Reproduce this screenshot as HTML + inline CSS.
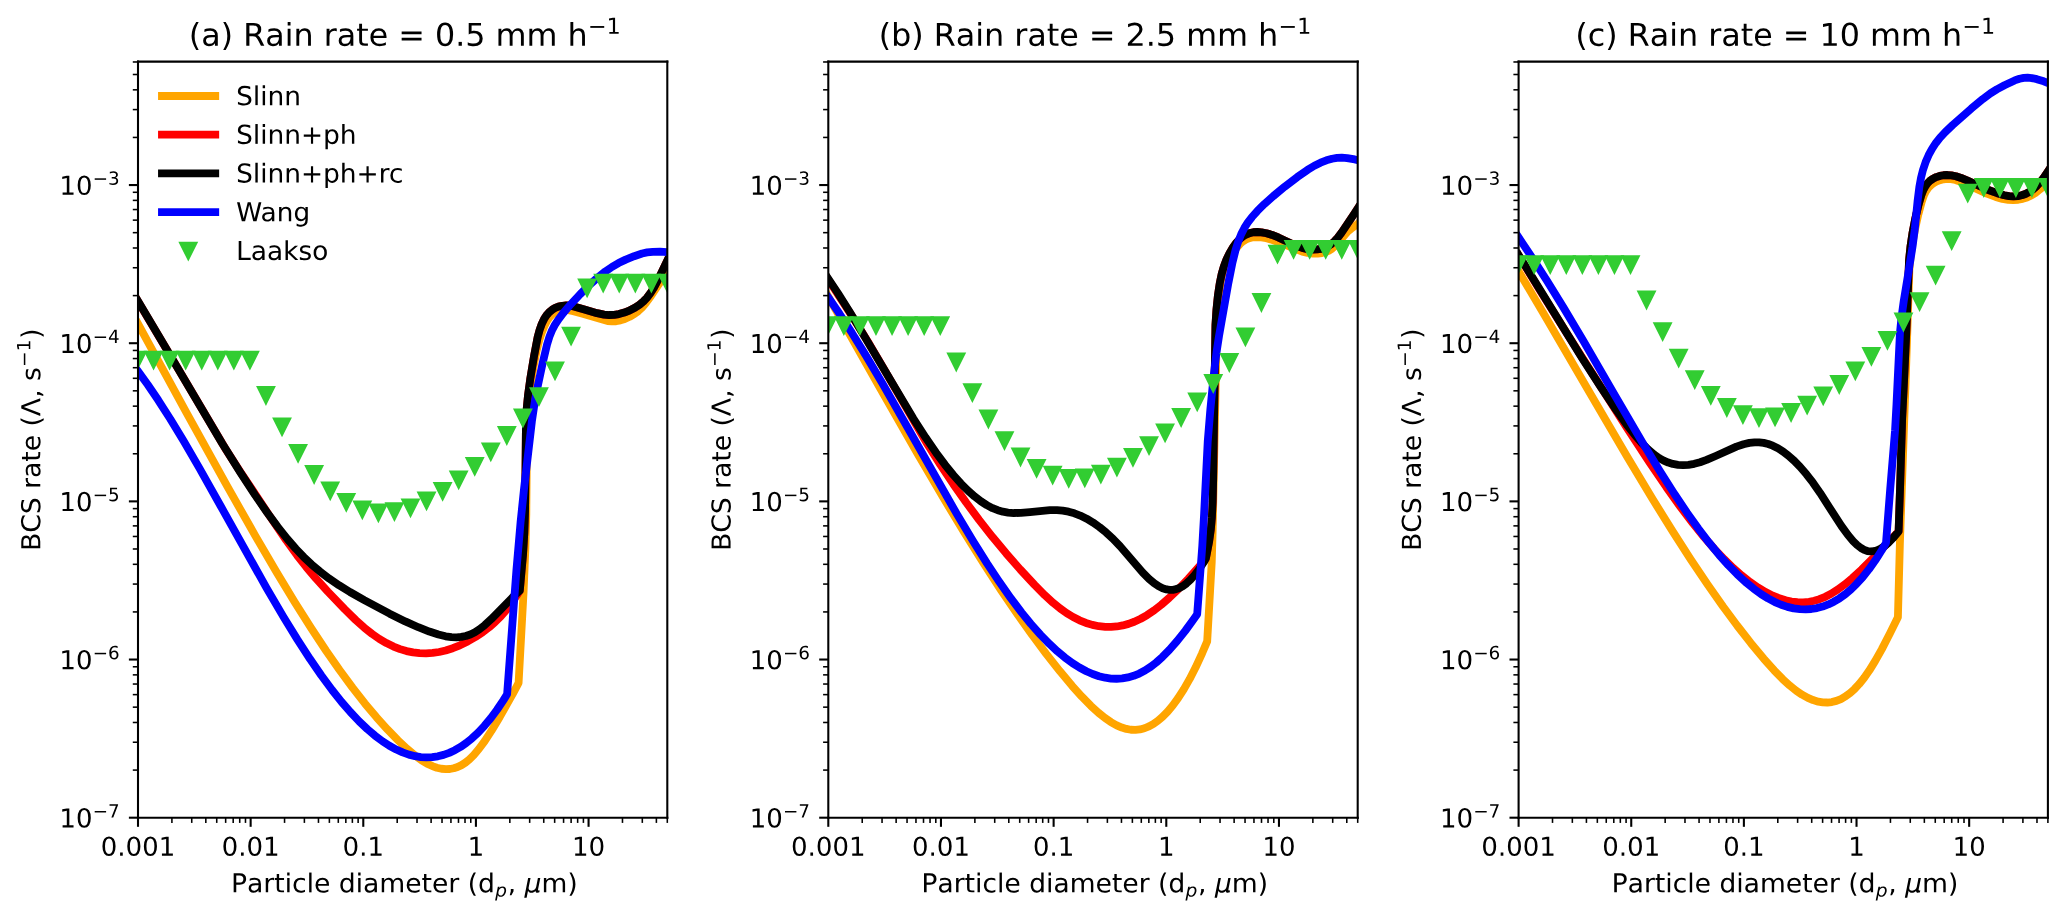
<!DOCTYPE html>
<html><head><meta charset="utf-8"><title>BCS rate</title><style>html,body{margin:0;padding:0;background:#fff;overflow:hidden;width:2067px;height:917px}svg{display:block;font-family:"Liberation Sans",sans-serif}</style></head><body>
<svg width="2067" height="917" viewBox="0 0 793.728 352.128" version="1.1">
 
 <defs>
  <style type="text/css">*{stroke-linejoin: round; stroke-linecap: butt}</style>
 </defs>
 <g id="figure_1">
  <g id="patch_1">
   <path d="M 0 352.128 
L 793.728 352.128 
L 793.728 0 
L 0 0 
z
" style="fill: #ffffff"/>
  </g>
  <g id="axes_1">
   <g id="patch_2">
    <path d="M 52.992 313.9968 
L 256.2432 313.9968 
L 256.2432 23.6544 
L 52.992 23.6544 
z
" style="fill: #ffffff"/>
   </g>
   <g id="matplotlib.axis_1">
    <g id="xtick_1">
     <g id="line2d_1">
      <defs>
       <path id="m1504cfccaf" d="M 0 0 
L 0 3.5 
" style="stroke: #000000; stroke-width: 0.8"/>
      </defs>
      <g>
       <use href="#m1504cfccaf" x="52.992" y="313.9968" style="stroke: #000000; stroke-width: 0.8"/>
      </g>
     </g>
     <g id="xt0_0">
      <!-- 0.001 -->
      <g transform="translate(38.677937 328.595237) scale(0.1 -0.1)">
       <defs>
        <path id="DejaVuSans-30" d="M 2034 4250 
Q 1547 4250 1301 3770 
Q 1056 3291 1056 2328 
Q 1056 1369 1301 889 
Q 1547 409 2034 409 
Q 2525 409 2770 889 
Q 3016 1369 3016 2328 
Q 3016 3291 2770 3770 
Q 2525 4250 2034 4250 
z
M 2034 4750 
Q 2819 4750 3233 4129 
Q 3647 3509 3647 2328 
Q 3647 1150 3233 529 
Q 2819 -91 2034 -91 
Q 1250 -91 836 529 
Q 422 1150 422 2328 
Q 422 3509 836 4129 
Q 1250 4750 2034 4750 
z
" transform="scale(0.015625)"/>
        <path id="DejaVuSans-2e" d="M 684 794 
L 1344 794 
L 1344 0 
L 684 0 
L 684 794 
z
" transform="scale(0.015625)"/>
        <path id="DejaVuSans-31" d="M 794 531 
L 1825 531 
L 1825 4091 
L 703 3866 
L 703 4441 
L 1819 4666 
L 2450 4666 
L 2450 531 
L 3481 531 
L 3481 0 
L 794 0 
L 794 531 
z
" transform="scale(0.015625)"/>
       </defs>
       <use href="#DejaVuSans-30"/>
       <use href="#DejaVuSans-2e" transform="translate(63.623047 0)"/>
       <use href="#DejaVuSans-30" transform="translate(95.410156 0)"/>
       <use href="#DejaVuSans-30" transform="translate(159.033203 0)"/>
       <use href="#DejaVuSans-31" transform="translate(222.65625 0)"/>
      </g>
     </g>
    </g>
    <g id="xtick_2">
     <g id="line2d_2">
      <g>
       <use href="#m1504cfccaf" x="96.246415" y="313.9968" style="stroke: #000000; stroke-width: 0.8"/>
      </g>
     </g>
     <g id="xt0_1">
      <!-- 0.01 -->
      <g transform="translate(85.113603 328.595237) scale(0.1 -0.1)">
       <use href="#DejaVuSans-30"/>
       <use href="#DejaVuSans-2e" transform="translate(63.623047 0)"/>
       <use href="#DejaVuSans-30" transform="translate(95.410156 0)"/>
       <use href="#DejaVuSans-31" transform="translate(159.033203 0)"/>
      </g>
     </g>
    </g>
    <g id="xtick_3">
     <g id="line2d_3">
      <g>
       <use href="#m1504cfccaf" x="139.500831" y="313.9968" style="stroke: #000000; stroke-width: 0.8"/>
      </g>
     </g>
     <g id="xt0_2">
      <!-- 0.1 -->
      <g transform="translate(131.549268 328.595237) scale(0.1 -0.1)">
       <use href="#DejaVuSans-30"/>
       <use href="#DejaVuSans-2e" transform="translate(63.623047 0)"/>
       <use href="#DejaVuSans-31" transform="translate(95.410156 0)"/>
      </g>
     </g>
    </g>
    <g id="xtick_4">
     <g id="line2d_4">
      <g>
       <use href="#m1504cfccaf" x="182.755246" y="313.9968" style="stroke: #000000; stroke-width: 0.8"/>
      </g>
     </g>
     <g id="xt0_3">
      <!-- 1 -->
      <g transform="translate(179.573996 328.595237) scale(0.1 -0.1)">
       <use href="#DejaVuSans-31"/>
      </g>
     </g>
    </g>
    <g id="xtick_5">
     <g id="line2d_5">
      <g>
       <use href="#m1504cfccaf" x="226.009661" y="313.9968" style="stroke: #000000; stroke-width: 0.8"/>
      </g>
     </g>
     <g id="xt0_4">
      <!-- 10 -->
      <g transform="translate(219.647161 328.595237) scale(0.1 -0.1)">
       <use href="#DejaVuSans-31"/>
       <use href="#DejaVuSans-30" transform="translate(63.623047 0)"/>
      </g>
     </g>
    </g>
    <g id="xtick_6">
     <g id="line2d_6">
      <defs>
       <path id="m05db3bdf9b" d="M 0 0 
L 0 2 
" style="stroke: #000000; stroke-width: 0.6"/>
      </defs>
      <g>
       <use href="#m05db3bdf9b" x="66.012876" y="313.9968" style="stroke: #000000; stroke-width: 0.6"/>
      </g>
     </g>
    </g>
    <g id="xtick_7">
     <g id="line2d_7">
      <g>
       <use href="#m05db3bdf9b" x="73.629601" y="313.9968" style="stroke: #000000; stroke-width: 0.6"/>
      </g>
     </g>
    </g>
    <g id="xtick_8">
     <g id="line2d_8">
      <g>
       <use href="#m05db3bdf9b" x="79.033753" y="313.9968" style="stroke: #000000; stroke-width: 0.6"/>
      </g>
     </g>
    </g>
    <g id="xtick_9">
     <g id="line2d_9">
      <g>
       <use href="#m05db3bdf9b" x="83.225539" y="313.9968" style="stroke: #000000; stroke-width: 0.6"/>
      </g>
     </g>
    </g>
    <g id="xtick_10">
     <g id="line2d_10">
      <g>
       <use href="#m05db3bdf9b" x="86.650477" y="313.9968" style="stroke: #000000; stroke-width: 0.6"/>
      </g>
     </g>
    </g>
    <g id="xtick_11">
     <g id="line2d_11">
      <g>
       <use href="#m05db3bdf9b" x="89.546222" y="313.9968" style="stroke: #000000; stroke-width: 0.6"/>
      </g>
     </g>
    </g>
    <g id="xtick_12">
     <g id="line2d_12">
      <g>
       <use href="#m05db3bdf9b" x="92.054629" y="313.9968" style="stroke: #000000; stroke-width: 0.6"/>
      </g>
     </g>
    </g>
    <g id="xtick_13">
     <g id="line2d_13">
      <g>
       <use href="#m05db3bdf9b" x="94.267202" y="313.9968" style="stroke: #000000; stroke-width: 0.6"/>
      </g>
     </g>
    </g>
    <g id="xtick_14">
     <g id="line2d_14">
      <g>
       <use href="#m05db3bdf9b" x="109.267292" y="313.9968" style="stroke: #000000; stroke-width: 0.6"/>
      </g>
     </g>
    </g>
    <g id="xtick_15">
     <g id="line2d_15">
      <g>
       <use href="#m05db3bdf9b" x="116.884016" y="313.9968" style="stroke: #000000; stroke-width: 0.6"/>
      </g>
     </g>
    </g>
    <g id="xtick_16">
     <g id="line2d_16">
      <g>
       <use href="#m05db3bdf9b" x="122.288168" y="313.9968" style="stroke: #000000; stroke-width: 0.6"/>
      </g>
     </g>
    </g>
    <g id="xtick_17">
     <g id="line2d_17">
      <g>
       <use href="#m05db3bdf9b" x="126.479954" y="313.9968" style="stroke: #000000; stroke-width: 0.6"/>
      </g>
     </g>
    </g>
    <g id="xtick_18">
     <g id="line2d_18">
      <g>
       <use href="#m05db3bdf9b" x="129.904893" y="313.9968" style="stroke: #000000; stroke-width: 0.6"/>
      </g>
     </g>
    </g>
    <g id="xtick_19">
     <g id="line2d_19">
      <g>
       <use href="#m05db3bdf9b" x="132.800637" y="313.9968" style="stroke: #000000; stroke-width: 0.6"/>
      </g>
     </g>
    </g>
    <g id="xtick_20">
     <g id="line2d_20">
      <g>
       <use href="#m05db3bdf9b" x="135.309045" y="313.9968" style="stroke: #000000; stroke-width: 0.6"/>
      </g>
     </g>
    </g>
    <g id="xtick_21">
     <g id="line2d_21">
      <g>
       <use href="#m05db3bdf9b" x="137.521617" y="313.9968" style="stroke: #000000; stroke-width: 0.6"/>
      </g>
     </g>
    </g>
    <g id="xtick_22">
     <g id="line2d_22">
      <g>
       <use href="#m05db3bdf9b" x="152.521707" y="313.9968" style="stroke: #000000; stroke-width: 0.6"/>
      </g>
     </g>
    </g>
    <g id="xtick_23">
     <g id="line2d_23">
      <g>
       <use href="#m05db3bdf9b" x="160.138431" y="313.9968" style="stroke: #000000; stroke-width: 0.6"/>
      </g>
     </g>
    </g>
    <g id="xtick_24">
     <g id="line2d_24">
      <g>
       <use href="#m05db3bdf9b" x="165.542583" y="313.9968" style="stroke: #000000; stroke-width: 0.6"/>
      </g>
     </g>
    </g>
    <g id="xtick_25">
     <g id="line2d_25">
      <g>
       <use href="#m05db3bdf9b" x="169.734369" y="313.9968" style="stroke: #000000; stroke-width: 0.6"/>
      </g>
     </g>
    </g>
    <g id="xtick_26">
     <g id="line2d_26">
      <g>
       <use href="#m05db3bdf9b" x="173.159308" y="313.9968" style="stroke: #000000; stroke-width: 0.6"/>
      </g>
     </g>
    </g>
    <g id="xtick_27">
     <g id="line2d_27">
      <g>
       <use href="#m05db3bdf9b" x="176.055052" y="313.9968" style="stroke: #000000; stroke-width: 0.6"/>
      </g>
     </g>
    </g>
    <g id="xtick_28">
     <g id="line2d_28">
      <g>
       <use href="#m05db3bdf9b" x="178.56346" y="313.9968" style="stroke: #000000; stroke-width: 0.6"/>
      </g>
     </g>
    </g>
    <g id="xtick_29">
     <g id="line2d_29">
      <g>
       <use href="#m05db3bdf9b" x="180.776032" y="313.9968" style="stroke: #000000; stroke-width: 0.6"/>
      </g>
     </g>
    </g>
    <g id="xtick_30">
     <g id="line2d_30">
      <g>
       <use href="#m05db3bdf9b" x="195.776122" y="313.9968" style="stroke: #000000; stroke-width: 0.6"/>
      </g>
     </g>
    </g>
    <g id="xtick_31">
     <g id="line2d_31">
      <g>
       <use href="#m05db3bdf9b" x="203.392847" y="313.9968" style="stroke: #000000; stroke-width: 0.6"/>
      </g>
     </g>
    </g>
    <g id="xtick_32">
     <g id="line2d_32">
      <g>
       <use href="#m05db3bdf9b" x="208.796999" y="313.9968" style="stroke: #000000; stroke-width: 0.6"/>
      </g>
     </g>
    </g>
    <g id="xtick_33">
     <g id="line2d_33">
      <g>
       <use href="#m05db3bdf9b" x="212.988785" y="313.9968" style="stroke: #000000; stroke-width: 0.6"/>
      </g>
     </g>
    </g>
    <g id="xtick_34">
     <g id="line2d_34">
      <g>
       <use href="#m05db3bdf9b" x="216.413723" y="313.9968" style="stroke: #000000; stroke-width: 0.6"/>
      </g>
     </g>
    </g>
    <g id="xtick_35">
     <g id="line2d_35">
      <g>
       <use href="#m05db3bdf9b" x="219.309467" y="313.9968" style="stroke: #000000; stroke-width: 0.6"/>
      </g>
     </g>
    </g>
    <g id="xtick_36">
     <g id="line2d_36">
      <g>
       <use href="#m05db3bdf9b" x="221.817875" y="313.9968" style="stroke: #000000; stroke-width: 0.6"/>
      </g>
     </g>
    </g>
    <g id="xtick_37">
     <g id="line2d_37">
      <g>
       <use href="#m05db3bdf9b" x="224.030448" y="313.9968" style="stroke: #000000; stroke-width: 0.6"/>
      </g>
     </g>
    </g>
    <g id="xtick_38">
     <g id="line2d_38">
      <g>
       <use href="#m05db3bdf9b" x="239.030538" y="313.9968" style="stroke: #000000; stroke-width: 0.6"/>
      </g>
     </g>
    </g>
    <g id="xtick_39">
     <g id="line2d_39">
      <g>
       <use href="#m05db3bdf9b" x="246.647262" y="313.9968" style="stroke: #000000; stroke-width: 0.6"/>
      </g>
     </g>
    </g>
    <g id="xtick_40">
     <g id="line2d_40">
      <g>
       <use href="#m05db3bdf9b" x="252.051414" y="313.9968" style="stroke: #000000; stroke-width: 0.6"/>
      </g>
     </g>
    </g>
    <g id="xtick_41">
     <g id="line2d_41">
      <g>
       <use href="#m05db3bdf9b" x="256.2432" y="313.9968" style="stroke: #000000; stroke-width: 0.6"/>
      </g>
     </g>
    </g>
    <g id="xl0" transform="translate(89.7228 335.0589) scale(1.02000 1.00000) translate(-90.2988 -334.6749)">
     <!-- Particle diameter (d$_p$, $\mu$m) -->
     <g transform="translate(89.3176 342.274925) scale(0.1 -0.1)">
      <defs>
       <path id="DejaVuSans-50" d="M 1259 4147 
L 1259 2394 
L 2053 2394 
Q 2494 2394 2734 2622 
Q 2975 2850 2975 3272 
Q 2975 3691 2734 3919 
Q 2494 4147 2053 4147 
L 1259 4147 
z
M 628 4666 
L 2053 4666 
Q 2838 4666 3239 4311 
Q 3641 3956 3641 3272 
Q 3641 2581 3239 2228 
Q 2838 1875 2053 1875 
L 1259 1875 
L 1259 0 
L 628 0 
L 628 4666 
z
" transform="scale(0.015625)"/>
       <path id="DejaVuSans-61" d="M 2194 1759 
Q 1497 1759 1228 1600 
Q 959 1441 959 1056 
Q 959 750 1161 570 
Q 1363 391 1709 391 
Q 2188 391 2477 730 
Q 2766 1069 2766 1631 
L 2766 1759 
L 2194 1759 
z
M 3341 1997 
L 3341 0 
L 2766 0 
L 2766 531 
Q 2569 213 2275 61 
Q 1981 -91 1556 -91 
Q 1019 -91 701 211 
Q 384 513 384 1019 
Q 384 1609 779 1909 
Q 1175 2209 1959 2209 
L 2766 2209 
L 2766 2266 
Q 2766 2663 2505 2880 
Q 2244 3097 1772 3097 
Q 1472 3097 1187 3025 
Q 903 2953 641 2809 
L 641 3341 
Q 956 3463 1253 3523 
Q 1550 3584 1831 3584 
Q 2591 3584 2966 3190 
Q 3341 2797 3341 1997 
z
" transform="scale(0.015625)"/>
       <path id="DejaVuSans-72" d="M 2631 2963 
Q 2534 3019 2420 3045 
Q 2306 3072 2169 3072 
Q 1681 3072 1420 2755 
Q 1159 2438 1159 1844 
L 1159 0 
L 581 0 
L 581 3500 
L 1159 3500 
L 1159 2956 
Q 1341 3275 1631 3429 
Q 1922 3584 2338 3584 
Q 2397 3584 2469 3576 
Q 2541 3569 2628 3553 
L 2631 2963 
z
" transform="scale(0.015625)"/>
       <path id="DejaVuSans-74" d="M 1172 4494 
L 1172 3500 
L 2356 3500 
L 2356 3053 
L 1172 3053 
L 1172 1153 
Q 1172 725 1289 603 
Q 1406 481 1766 481 
L 2356 481 
L 2356 0 
L 1766 0 
Q 1100 0 847 248 
Q 594 497 594 1153 
L 594 3053 
L 172 3053 
L 172 3500 
L 594 3500 
L 594 4494 
L 1172 4494 
z
" transform="scale(0.015625)"/>
       <path id="DejaVuSans-69" d="M 603 3500 
L 1178 3500 
L 1178 0 
L 603 0 
L 603 3500 
z
M 603 4863 
L 1178 4863 
L 1178 4134 
L 603 4134 
L 603 4863 
z
" transform="scale(0.015625)"/>
       <path id="DejaVuSans-63" d="M 3122 3366 
L 3122 2828 
Q 2878 2963 2633 3030 
Q 2388 3097 2138 3097 
Q 1578 3097 1268 2742 
Q 959 2388 959 1747 
Q 959 1106 1268 751 
Q 1578 397 2138 397 
Q 2388 397 2633 464 
Q 2878 531 3122 666 
L 3122 134 
Q 2881 22 2623 -34 
Q 2366 -91 2075 -91 
Q 1284 -91 818 406 
Q 353 903 353 1747 
Q 353 2603 823 3093 
Q 1294 3584 2113 3584 
Q 2378 3584 2631 3529 
Q 2884 3475 3122 3366 
z
" transform="scale(0.015625)"/>
       <path id="DejaVuSans-6c" d="M 603 4863 
L 1178 4863 
L 1178 0 
L 603 0 
L 603 4863 
z
" transform="scale(0.015625)"/>
       <path id="DejaVuSans-65" d="M 3597 1894 
L 3597 1613 
L 953 1613 
Q 991 1019 1311 708 
Q 1631 397 2203 397 
Q 2534 397 2845 478 
Q 3156 559 3463 722 
L 3463 178 
Q 3153 47 2828 -22 
Q 2503 -91 2169 -91 
Q 1331 -91 842 396 
Q 353 884 353 1716 
Q 353 2575 817 3079 
Q 1281 3584 2069 3584 
Q 2775 3584 3186 3129 
Q 3597 2675 3597 1894 
z
M 3022 2063 
Q 3016 2534 2758 2815 
Q 2500 3097 2075 3097 
Q 1594 3097 1305 2825 
Q 1016 2553 972 2059 
L 3022 2063 
z
" transform="scale(0.015625)"/>
       <path id="DejaVuSans-20" transform="scale(0.015625)"/>
       <path id="DejaVuSans-64" d="M 2906 2969 
L 2906 4863 
L 3481 4863 
L 3481 0 
L 2906 0 
L 2906 525 
Q 2725 213 2448 61 
Q 2172 -91 1784 -91 
Q 1150 -91 751 415 
Q 353 922 353 1747 
Q 353 2572 751 3078 
Q 1150 3584 1784 3584 
Q 2172 3584 2448 3432 
Q 2725 3281 2906 2969 
z
M 947 1747 
Q 947 1113 1208 752 
Q 1469 391 1925 391 
Q 2381 391 2643 752 
Q 2906 1113 2906 1747 
Q 2906 2381 2643 2742 
Q 2381 3103 1925 3103 
Q 1469 3103 1208 2742 
Q 947 2381 947 1747 
z
" transform="scale(0.015625)"/>
       <path id="DejaVuSans-6d" d="M 3328 2828 
Q 3544 3216 3844 3400 
Q 4144 3584 4550 3584 
Q 5097 3584 5394 3201 
Q 5691 2819 5691 2113 
L 5691 0 
L 5113 0 
L 5113 2094 
Q 5113 2597 4934 2840 
Q 4756 3084 4391 3084 
Q 3944 3084 3684 2787 
Q 3425 2491 3425 1978 
L 3425 0 
L 2847 0 
L 2847 2094 
Q 2847 2600 2669 2842 
Q 2491 3084 2119 3084 
Q 1678 3084 1418 2786 
Q 1159 2488 1159 1978 
L 1159 0 
L 581 0 
L 581 3500 
L 1159 3500 
L 1159 2956 
Q 1356 3278 1631 3431 
Q 1906 3584 2284 3584 
Q 2666 3584 2933 3390 
Q 3200 3197 3328 2828 
z
" transform="scale(0.015625)"/>
       <path id="DejaVuSans-28" d="M 1984 4856 
Q 1566 4138 1362 3434 
Q 1159 2731 1159 2009 
Q 1159 1288 1364 580 
Q 1569 -128 1984 -844 
L 1484 -844 
Q 1016 -109 783 600 
Q 550 1309 550 2009 
Q 550 2706 781 3412 
Q 1013 4119 1484 4856 
L 1984 4856 
z
" transform="scale(0.015625)"/>
       <path id="DejaVuSans-Oblique-70" d="M 3175 2156 
Q 3175 2616 2975 2859 
Q 2775 3103 2400 3103 
Q 2144 3103 1911 2972 
Q 1678 2841 1497 2591 
Q 1319 2344 1212 1994 
Q 1106 1644 1106 1300 
Q 1106 863 1306 627 
Q 1506 391 1875 391 
Q 2147 391 2380 519 
Q 2613 647 2778 891 
Q 2956 1147 3065 1494 
Q 3175 1841 3175 2156 
z
M 1394 2969 
Q 1625 3272 1939 3428 
Q 2253 3584 2638 3584 
Q 3175 3584 3472 3232 
Q 3769 2881 3769 2247 
Q 3769 1728 3584 1258 
Q 3400 788 3053 416 
Q 2822 169 2531 39 
Q 2241 -91 1919 -91 
Q 1547 -91 1294 64 
Q 1041 219 916 525 
L 556 -1331 
L -19 -1331 
L 922 3500 
L 1497 3500 
L 1394 2969 
z
" transform="scale(0.015625)"/>
       <path id="DejaVuSans-2c" d="M 750 794 
L 1409 794 
L 1409 256 
L 897 -744 
L 494 -744 
L 750 256 
L 750 794 
z
" transform="scale(0.015625)"/>
       <path id="DejaVuSans-Oblique-3bc" d="M -84 -1331 
L 856 3500 
L 1434 3500 
L 1009 1322 
Q 997 1256 987 1175 
Q 978 1094 978 1013 
Q 978 722 1161 565 
Q 1344 409 1684 409 
Q 2147 409 2431 671 
Q 2716 934 2816 1459 
L 3213 3500 
L 3788 3500 
L 3266 809 
Q 3253 750 3248 706 
Q 3244 663 3244 628 
Q 3244 531 3283 486 
Q 3322 441 3406 441 
Q 3438 441 3492 456 
Q 3547 472 3647 513 
L 3559 50 
Q 3422 -19 3297 -55 
Q 3172 -91 3053 -91 
Q 2847 -91 2730 40 
Q 2613 172 2613 403 
Q 2438 153 2195 31 
Q 1953 -91 1625 -91 
Q 1334 -91 1117 43 
Q 900 178 831 397 
L 494 -1331 
L -84 -1331 
z
" transform="scale(0.015625)"/>
       <path id="DejaVuSans-29" d="M 513 4856 
L 1013 4856 
Q 1481 4119 1714 3412 
Q 1947 2706 1947 2009 
Q 1947 1309 1714 600 
Q 1481 -109 1013 -844 
L 513 -844 
Q 928 -128 1133 580 
Q 1338 1288 1338 2009 
Q 1338 2731 1133 3434 
Q 928 4138 513 4856 
z
" transform="scale(0.015625)"/>
      </defs>
      <use href="#DejaVuSans-50" transform="translate(0 0.015625)"/>
      <use href="#DejaVuSans-61" transform="translate(60.302734 0.015625)"/>
      <use href="#DejaVuSans-72" transform="translate(121.582031 0.015625)"/>
      <use href="#DejaVuSans-74" transform="translate(162.695312 0.015625)"/>
      <use href="#DejaVuSans-69" transform="translate(201.904297 0.015625)"/>
      <use href="#DejaVuSans-63" transform="translate(229.6875 0.015625)"/>
      <use href="#DejaVuSans-6c" transform="translate(284.667969 0.015625)"/>
      <use href="#DejaVuSans-65" transform="translate(312.451172 0.015625)"/>
      <use href="#DejaVuSans-20" transform="translate(373.974609 0.015625)"/>
      <use href="#DejaVuSans-64" transform="translate(405.761719 0.015625)"/>
      <use href="#DejaVuSans-69" transform="translate(469.238281 0.015625)"/>
      <use href="#DejaVuSans-61" transform="translate(497.021484 0.015625)"/>
      <use href="#DejaVuSans-6d" transform="translate(558.300781 0.015625)"/>
      <use href="#DejaVuSans-65" transform="translate(655.712891 0.015625)"/>
      <use href="#DejaVuSans-74" transform="translate(717.236328 0.015625)"/>
      <use href="#DejaVuSans-65" transform="translate(756.445312 0.015625)"/>
      <use href="#DejaVuSans-72" transform="translate(817.96875 0.015625)"/>
      <use href="#DejaVuSans-20" transform="translate(859.082031 0.015625)"/>
      <use href="#DejaVuSans-28" transform="translate(890.869141 0.015625)"/>
      <use href="#DejaVuSans-64" transform="translate(929.882812 0.015625)"/>
      <use href="#DejaVuSans-Oblique-70" transform="translate(994.316406 -16.390625) scale(0.7)"/>
      <use href="#DejaVuSans-2c" transform="translate(1041.484375 0.015625)"/>
      <use href="#DejaVuSans-20" transform="translate(1073.271484 0.015625)"/>
      <use href="#DejaVuSans-Oblique-3bc" transform="translate(1105.058594 0.015625)"/>
      <use href="#DejaVuSans-6d" transform="translate(1168.681641 0.015625)"/>
      <use href="#DejaVuSans-29" transform="translate(1266.09375 0.015625)"/>
     </g>
    </g>
   </g>
   <g id="matplotlib.axis_2">
    <g id="ytick_1">
     <g id="line2d_42">
      <defs>
       <path id="m5d545ce8f8" d="M 0 0 
L -3.5 0 
" style="stroke: #000000; stroke-width: 0.8"/>
      </defs>
      <g>
       <use href="#m5d545ce8f8" x="52.992" y="313.9968" style="stroke: #000000; stroke-width: 0.8"/>
      </g>
     </g>
     <g id="yt0_1" transform="translate(23.8976 308.7960) scale(1.00000 1.00000) translate(-23.5904 -308.7960)">
      <!-- $\mathdefault{10^{-7}}$ -->
      <g transform="translate(22.492 317.796019) scale(0.1 -0.1)">
       <defs>
        <path id="DejaVuSans-2212" d="M 678 2272 
L 4684 2272 
L 4684 1741 
L 678 1741 
L 678 2272 
z
" transform="scale(0.015625)"/>
        <path id="DejaVuSans-37" d="M 525 4666 
L 3525 4666 
L 3525 4397 
L 1831 0 
L 1172 0 
L 2766 4134 
L 525 4134 
L 525 4666 
z
" transform="scale(0.015625)"/>
       </defs>
       <use href="#DejaVuSans-31" transform="translate(0 0.684375)"/>
       <use href="#DejaVuSans-30" transform="translate(63.623047 0.684375)"/>
       <use href="#DejaVuSans-2212" transform="translate(128.203125 38.965625) scale(0.7)"/>
       <use href="#DejaVuSans-37" transform="translate(186.855469 38.965625) scale(0.7)"/>
      </g>
     </g>
    </g>
    <g id="ytick_2">
     <g id="line2d_43">
      <g>
       <use href="#m5d545ce8f8" x="52.992" y="253.2624" style="stroke: #000000; stroke-width: 0.8"/>
      </g>
     </g>
     <g id="yt0_2" transform="translate(23.8976 247.9616) scale(1.00000 1.00000) translate(-23.5904 -247.9616)">
      <!-- $\mathdefault{10^{-6}}$ -->
      <g transform="translate(22.492 257.061619) scale(0.1 -0.1)">
       <defs>
        <path id="DejaVuSans-36" d="M 2113 2584 
Q 1688 2584 1439 2293 
Q 1191 2003 1191 1497 
Q 1191 994 1439 701 
Q 1688 409 2113 409 
Q 2538 409 2786 701 
Q 3034 994 3034 1497 
Q 3034 2003 2786 2293 
Q 2538 2584 2113 2584 
z
M 3366 4563 
L 3366 3988 
Q 3128 4100 2886 4159 
Q 2644 4219 2406 4219 
Q 1781 4219 1451 3797 
Q 1122 3375 1075 2522 
Q 1259 2794 1537 2939 
Q 1816 3084 2150 3084 
Q 2853 3084 3261 2657 
Q 3669 2231 3669 1497 
Q 3669 778 3244 343 
Q 2819 -91 2113 -91 
Q 1303 -91 875 529 
Q 447 1150 447 2328 
Q 447 3434 972 4092 
Q 1497 4750 2381 4750 
Q 2619 4750 2861 4703 
Q 3103 4656 3366 4563 
z
" transform="scale(0.015625)"/>
       </defs>
       <use href="#DejaVuSans-31" transform="translate(0 0.765625)"/>
       <use href="#DejaVuSans-30" transform="translate(63.623047 0.765625)"/>
       <use href="#DejaVuSans-2212" transform="translate(128.203125 39.046875) scale(0.7)"/>
       <use href="#DejaVuSans-36" transform="translate(186.855469 39.046875) scale(0.7)"/>
      </g>
     </g>
    </g>
    <g id="ytick_3">
     <g id="line2d_44">
      <g>
       <use href="#m5d545ce8f8" x="52.992" y="192.528" style="stroke: #000000; stroke-width: 0.8"/>
      </g>
     </g>
     <g id="yt0_3" transform="translate(23.8976 187.3272) scale(1.00000 1.00000) translate(-23.5904 -187.3272)">
      <!-- $\mathdefault{10^{-5}}$ -->
      <g transform="translate(22.492 196.327219) scale(0.1 -0.1)">
       <defs>
        <path id="DejaVuSans-35" d="M 691 4666 
L 3169 4666 
L 3169 4134 
L 1269 4134 
L 1269 2991 
Q 1406 3038 1543 3061 
Q 1681 3084 1819 3084 
Q 2600 3084 3056 2656 
Q 3513 2228 3513 1497 
Q 3513 744 3044 326 
Q 2575 -91 1722 -91 
Q 1428 -91 1123 -41 
Q 819 9 494 109 
L 494 744 
Q 775 591 1075 516 
Q 1375 441 1709 441 
Q 2250 441 2565 725 
Q 2881 1009 2881 1497 
Q 2881 1984 2565 2268 
Q 2250 2553 1709 2553 
Q 1456 2553 1204 2497 
Q 953 2441 691 2322 
L 691 4666 
z
" transform="scale(0.015625)"/>
       </defs>
       <use href="#DejaVuSans-31" transform="translate(0 0.684375)"/>
       <use href="#DejaVuSans-30" transform="translate(63.623047 0.684375)"/>
       <use href="#DejaVuSans-2212" transform="translate(128.203125 38.965625) scale(0.7)"/>
       <use href="#DejaVuSans-35" transform="translate(186.855469 38.965625) scale(0.7)"/>
      </g>
     </g>
    </g>
    <g id="ytick_4">
     <g id="line2d_45">
      <g>
       <use href="#m5d545ce8f8" x="52.992" y="131.7936" style="stroke: #000000; stroke-width: 0.8"/>
      </g>
     </g>
     <g id="yt0_4" transform="translate(23.8976 126.5928) scale(1.00000 1.00000) translate(-23.5904 -126.5928)">
      <!-- $\mathdefault{10^{-4}}$ -->
      <g transform="translate(22.492 135.592819) scale(0.1 -0.1)">
       <defs>
        <path id="DejaVuSans-34" d="M 2419 4116 
L 825 1625 
L 2419 1625 
L 2419 4116 
z
M 2253 4666 
L 3047 4666 
L 3047 1625 
L 3713 1625 
L 3713 1100 
L 3047 1100 
L 3047 0 
L 2419 0 
L 2419 1100 
L 313 1100 
L 313 1709 
L 2253 4666 
z
" transform="scale(0.015625)"/>
       </defs>
       <use href="#DejaVuSans-31" transform="translate(0 0.684375)"/>
       <use href="#DejaVuSans-30" transform="translate(63.623047 0.684375)"/>
       <use href="#DejaVuSans-2212" transform="translate(128.203125 38.965625) scale(0.7)"/>
       <use href="#DejaVuSans-34" transform="translate(186.855469 38.965625) scale(0.7)"/>
      </g>
     </g>
    </g>
    <g id="ytick_5">
     <g id="line2d_46">
      <g>
       <use href="#m5d545ce8f8" x="52.992" y="71.0592" style="stroke: #000000; stroke-width: 0.8"/>
      </g>
     </g>
     <g id="yt0_5" transform="translate(23.8976 65.7584) scale(1.00000 1.00000) translate(-23.5904 -65.7584)">
      <!-- $\mathdefault{10^{-3}}$ -->
      <g transform="translate(22.492 74.858419) scale(0.1 -0.1)">
       <defs>
        <path id="DejaVuSans-33" d="M 2597 2516 
Q 3050 2419 3304 2112 
Q 3559 1806 3559 1356 
Q 3559 666 3084 287 
Q 2609 -91 1734 -91 
Q 1441 -91 1130 -33 
Q 819 25 488 141 
L 488 750 
Q 750 597 1062 519 
Q 1375 441 1716 441 
Q 2309 441 2620 675 
Q 2931 909 2931 1356 
Q 2931 1769 2642 2001 
Q 2353 2234 1838 2234 
L 1294 2234 
L 1294 2753 
L 1863 2753 
Q 2328 2753 2575 2939 
Q 2822 3125 2822 3475 
Q 2822 3834 2567 4026 
Q 2313 4219 1838 4219 
Q 1578 4219 1281 4162 
Q 984 4106 628 3988 
L 628 4550 
Q 988 4650 1302 4700 
Q 1616 4750 1894 4750 
Q 2613 4750 3031 4423 
Q 3450 4097 3450 3541 
Q 3450 3153 3228 2886 
Q 3006 2619 2597 2516 
z
" transform="scale(0.015625)"/>
       </defs>
       <use href="#DejaVuSans-31" transform="translate(0 0.765625)"/>
       <use href="#DejaVuSans-30" transform="translate(63.623047 0.765625)"/>
       <use href="#DejaVuSans-2212" transform="translate(128.203125 39.046875) scale(0.7)"/>
       <use href="#DejaVuSans-33" transform="translate(186.855469 39.046875) scale(0.7)"/>
      </g>
     </g>
    </g>
    <g id="ytick_6">
     <g id="line2d_47">
      <defs>
       <path id="mc3d89a154a" d="M 0 0 
L -2 0 
" style="stroke: #000000; stroke-width: 0.6"/>
      </defs>
      <g>
       <use href="#mc3d89a154a" x="52.992" y="295.713924" style="stroke: #000000; stroke-width: 0.6"/>
      </g>
     </g>
    </g>
    <g id="ytick_7">
     <g id="line2d_48">
      <g>
       <use href="#mc3d89a154a" x="52.992" y="285.019127" style="stroke: #000000; stroke-width: 0.6"/>
      </g>
     </g>
    </g>
    <g id="ytick_8">
     <g id="line2d_49">
      <g>
       <use href="#mc3d89a154a" x="52.992" y="277.431048" style="stroke: #000000; stroke-width: 0.6"/>
      </g>
     </g>
    </g>
    <g id="ytick_9">
     <g id="line2d_50">
      <g>
       <use href="#mc3d89a154a" x="52.992" y="271.545276" style="stroke: #000000; stroke-width: 0.6"/>
      </g>
     </g>
    </g>
    <g id="ytick_10">
     <g id="line2d_51">
      <g>
       <use href="#mc3d89a154a" x="52.992" y="266.736251" style="stroke: #000000; stroke-width: 0.6"/>
      </g>
     </g>
    </g>
    <g id="ytick_11">
     <g id="line2d_52">
      <g>
       <use href="#mc3d89a154a" x="52.992" y="262.670278" style="stroke: #000000; stroke-width: 0.6"/>
      </g>
     </g>
    </g>
    <g id="ytick_12">
     <g id="line2d_53">
      <g>
       <use href="#mc3d89a154a" x="52.992" y="259.148171" style="stroke: #000000; stroke-width: 0.6"/>
      </g>
     </g>
    </g>
    <g id="ytick_13">
     <g id="line2d_54">
      <g>
       <use href="#mc3d89a154a" x="52.992" y="256.041454" style="stroke: #000000; stroke-width: 0.6"/>
      </g>
     </g>
    </g>
    <g id="ytick_14">
     <g id="line2d_55">
      <g>
       <use href="#mc3d89a154a" x="52.992" y="234.979524" style="stroke: #000000; stroke-width: 0.6"/>
      </g>
     </g>
    </g>
    <g id="ytick_15">
     <g id="line2d_56">
      <g>
       <use href="#mc3d89a154a" x="52.992" y="224.284727" style="stroke: #000000; stroke-width: 0.6"/>
      </g>
     </g>
    </g>
    <g id="ytick_16">
     <g id="line2d_57">
      <g>
       <use href="#mc3d89a154a" x="52.992" y="216.696648" style="stroke: #000000; stroke-width: 0.6"/>
      </g>
     </g>
    </g>
    <g id="ytick_17">
     <g id="line2d_58">
      <g>
       <use href="#mc3d89a154a" x="52.992" y="210.810876" style="stroke: #000000; stroke-width: 0.6"/>
      </g>
     </g>
    </g>
    <g id="ytick_18">
     <g id="line2d_59">
      <g>
       <use href="#mc3d89a154a" x="52.992" y="206.001851" style="stroke: #000000; stroke-width: 0.6"/>
      </g>
     </g>
    </g>
    <g id="ytick_19">
     <g id="line2d_60">
      <g>
       <use href="#mc3d89a154a" x="52.992" y="201.935878" style="stroke: #000000; stroke-width: 0.6"/>
      </g>
     </g>
    </g>
    <g id="ytick_20">
     <g id="line2d_61">
      <g>
       <use href="#mc3d89a154a" x="52.992" y="198.413771" style="stroke: #000000; stroke-width: 0.6"/>
      </g>
     </g>
    </g>
    <g id="ytick_21">
     <g id="line2d_62">
      <g>
       <use href="#mc3d89a154a" x="52.992" y="195.307054" style="stroke: #000000; stroke-width: 0.6"/>
      </g>
     </g>
    </g>
    <g id="ytick_22">
     <g id="line2d_63">
      <g>
       <use href="#mc3d89a154a" x="52.992" y="174.245124" style="stroke: #000000; stroke-width: 0.6"/>
      </g>
     </g>
    </g>
    <g id="ytick_23">
     <g id="line2d_64">
      <g>
       <use href="#mc3d89a154a" x="52.992" y="163.550327" style="stroke: #000000; stroke-width: 0.6"/>
      </g>
     </g>
    </g>
    <g id="ytick_24">
     <g id="line2d_65">
      <g>
       <use href="#mc3d89a154a" x="52.992" y="155.962248" style="stroke: #000000; stroke-width: 0.6"/>
      </g>
     </g>
    </g>
    <g id="ytick_25">
     <g id="line2d_66">
      <g>
       <use href="#mc3d89a154a" x="52.992" y="150.076476" style="stroke: #000000; stroke-width: 0.6"/>
      </g>
     </g>
    </g>
    <g id="ytick_26">
     <g id="line2d_67">
      <g>
       <use href="#mc3d89a154a" x="52.992" y="145.267451" style="stroke: #000000; stroke-width: 0.6"/>
      </g>
     </g>
    </g>
    <g id="ytick_27">
     <g id="line2d_68">
      <g>
       <use href="#mc3d89a154a" x="52.992" y="141.201478" style="stroke: #000000; stroke-width: 0.6"/>
      </g>
     </g>
    </g>
    <g id="ytick_28">
     <g id="line2d_69">
      <g>
       <use href="#mc3d89a154a" x="52.992" y="137.679371" style="stroke: #000000; stroke-width: 0.6"/>
      </g>
     </g>
    </g>
    <g id="ytick_29">
     <g id="line2d_70">
      <g>
       <use href="#mc3d89a154a" x="52.992" y="134.572654" style="stroke: #000000; stroke-width: 0.6"/>
      </g>
     </g>
    </g>
    <g id="ytick_30">
     <g id="line2d_71">
      <g>
       <use href="#mc3d89a154a" x="52.992" y="113.510724" style="stroke: #000000; stroke-width: 0.6"/>
      </g>
     </g>
    </g>
    <g id="ytick_31">
     <g id="line2d_72">
      <g>
       <use href="#mc3d89a154a" x="52.992" y="102.815927" style="stroke: #000000; stroke-width: 0.6"/>
      </g>
     </g>
    </g>
    <g id="ytick_32">
     <g id="line2d_73">
      <g>
       <use href="#mc3d89a154a" x="52.992" y="95.227848" style="stroke: #000000; stroke-width: 0.6"/>
      </g>
     </g>
    </g>
    <g id="ytick_33">
     <g id="line2d_74">
      <g>
       <use href="#mc3d89a154a" x="52.992" y="89.342076" style="stroke: #000000; stroke-width: 0.6"/>
      </g>
     </g>
    </g>
    <g id="ytick_34">
     <g id="line2d_75">
      <g>
       <use href="#mc3d89a154a" x="52.992" y="84.533051" style="stroke: #000000; stroke-width: 0.6"/>
      </g>
     </g>
    </g>
    <g id="ytick_35">
     <g id="line2d_76">
      <g>
       <use href="#mc3d89a154a" x="52.992" y="80.467078" style="stroke: #000000; stroke-width: 0.6"/>
      </g>
     </g>
    </g>
    <g id="ytick_36">
     <g id="line2d_77">
      <g>
       <use href="#mc3d89a154a" x="52.992" y="76.944971" style="stroke: #000000; stroke-width: 0.6"/>
      </g>
     </g>
    </g>
    <g id="ytick_37">
     <g id="line2d_78">
      <g>
       <use href="#mc3d89a154a" x="52.992" y="73.838254" style="stroke: #000000; stroke-width: 0.6"/>
      </g>
     </g>
    </g>
    <g id="ytick_38">
     <g id="line2d_79">
      <g>
       <use href="#mc3d89a154a" x="52.992" y="52.776324" style="stroke: #000000; stroke-width: 0.6"/>
      </g>
     </g>
    </g>
    <g id="ytick_39">
     <g id="line2d_80">
      <g>
       <use href="#mc3d89a154a" x="52.992" y="42.081527" style="stroke: #000000; stroke-width: 0.6"/>
      </g>
     </g>
    </g>
    <g id="ytick_40">
     <g id="line2d_81">
      <g>
       <use href="#mc3d89a154a" x="52.992" y="34.493448" style="stroke: #000000; stroke-width: 0.6"/>
      </g>
     </g>
    </g>
    <g id="ytick_41">
     <g id="line2d_82">
      <g>
       <use href="#mc3d89a154a" x="52.992" y="28.607676" style="stroke: #000000; stroke-width: 0.6"/>
      </g>
     </g>
    </g>
    <g id="ytick_42">
     <g id="line2d_83">
      <g>
       <use href="#mc3d89a154a" x="52.992" y="23.798651" style="stroke: #000000; stroke-width: 0.6"/>
      </g>
     </g>
    </g>
    <g id="yl0" transform="translate(6.5291 168.7849) scale(1.00000 1.02000) translate(-7.4123 -168.7849)">
     <!-- BCS rate ($\Lambda$, s$^{-1}$) -->
     <g transform="translate(16.412312 210.7256) rotate(-90) scale(0.1 -0.1)">
      <defs>
       <path id="DejaVuSans-42" d="M 1259 2228 
L 1259 519 
L 2272 519 
Q 2781 519 3026 730 
Q 3272 941 3272 1375 
Q 3272 1813 3026 2020 
Q 2781 2228 2272 2228 
L 1259 2228 
z
M 1259 4147 
L 1259 2741 
L 2194 2741 
Q 2656 2741 2882 2914 
Q 3109 3088 3109 3444 
Q 3109 3797 2882 3972 
Q 2656 4147 2194 4147 
L 1259 4147 
z
M 628 4666 
L 2241 4666 
Q 2963 4666 3353 4366 
Q 3744 4066 3744 3513 
Q 3744 3084 3544 2831 
Q 3344 2578 2956 2516 
Q 3422 2416 3680 2098 
Q 3938 1781 3938 1306 
Q 3938 681 3513 340 
Q 3088 0 2303 0 
L 628 0 
L 628 4666 
z
" transform="scale(0.015625)"/>
       <path id="DejaVuSans-43" d="M 4122 4306 
L 4122 3641 
Q 3803 3938 3442 4084 
Q 3081 4231 2675 4231 
Q 1875 4231 1450 3742 
Q 1025 3253 1025 2328 
Q 1025 1406 1450 917 
Q 1875 428 2675 428 
Q 3081 428 3442 575 
Q 3803 722 4122 1019 
L 4122 359 
Q 3791 134 3420 21 
Q 3050 -91 2638 -91 
Q 1578 -91 968 557 
Q 359 1206 359 2328 
Q 359 3453 968 4101 
Q 1578 4750 2638 4750 
Q 3056 4750 3426 4639 
Q 3797 4528 4122 4306 
z
" transform="scale(0.015625)"/>
       <path id="DejaVuSans-53" d="M 3425 4513 
L 3425 3897 
Q 3066 4069 2747 4153 
Q 2428 4238 2131 4238 
Q 1616 4238 1336 4038 
Q 1056 3838 1056 3469 
Q 1056 3159 1242 3001 
Q 1428 2844 1947 2747 
L 2328 2669 
Q 3034 2534 3370 2195 
Q 3706 1856 3706 1288 
Q 3706 609 3251 259 
Q 2797 -91 1919 -91 
Q 1588 -91 1214 -16 
Q 841 59 441 206 
L 441 856 
Q 825 641 1194 531 
Q 1563 422 1919 422 
Q 2459 422 2753 634 
Q 3047 847 3047 1241 
Q 3047 1584 2836 1778 
Q 2625 1972 2144 2069 
L 1759 2144 
Q 1053 2284 737 2584 
Q 422 2884 422 3419 
Q 422 4038 858 4394 
Q 1294 4750 2059 4750 
Q 2388 4750 2728 4690 
Q 3069 4631 3425 4513 
z
" transform="scale(0.015625)"/>
       <path id="DejaVuSans-39b" d="M 716 0 
L 50 0 
L 1831 4666 
L 2547 4666 
L 4325 0 
L 3669 0 
L 2188 4044 
L 716 0 
z
" transform="scale(0.015625)"/>
       <path id="DejaVuSans-73" d="M 2834 3397 
L 2834 2853 
Q 2591 2978 2328 3040 
Q 2066 3103 1784 3103 
Q 1356 3103 1142 2972 
Q 928 2841 928 2578 
Q 928 2378 1081 2264 
Q 1234 2150 1697 2047 
L 1894 2003 
Q 2506 1872 2764 1633 
Q 3022 1394 3022 966 
Q 3022 478 2636 193 
Q 2250 -91 1575 -91 
Q 1294 -91 989 -36 
Q 684 19 347 128 
L 347 722 
Q 666 556 975 473 
Q 1284 391 1588 391 
Q 1994 391 2212 530 
Q 2431 669 2431 922 
Q 2431 1156 2273 1281 
Q 2116 1406 1581 1522 
L 1381 1569 
Q 847 1681 609 1914 
Q 372 2147 372 2553 
Q 372 3047 722 3315 
Q 1072 3584 1716 3584 
Q 2034 3584 2315 3537 
Q 2597 3491 2834 3397 
z
" transform="scale(0.015625)"/>
      </defs>
      <use href="#DejaVuSans-42" transform="translate(0 0.684375)"/>
      <use href="#DejaVuSans-43" transform="translate(68.603516 0.684375)"/>
      <use href="#DejaVuSans-53" transform="translate(138.427734 0.684375)"/>
      <use href="#DejaVuSans-20" transform="translate(201.904297 0.684375)"/>
      <use href="#DejaVuSans-72" transform="translate(233.691406 0.684375)"/>
      <use href="#DejaVuSans-61" transform="translate(274.804688 0.684375)"/>
      <use href="#DejaVuSans-74" transform="translate(336.083984 0.684375)"/>
      <use href="#DejaVuSans-65" transform="translate(375.292969 0.684375)"/>
      <use href="#DejaVuSans-20" transform="translate(436.816406 0.684375)"/>
      <use href="#DejaVuSans-28" transform="translate(468.603516 0.684375)"/>
      <use href="#DejaVuSans-39b" transform="translate(507.617188 0.684375)"/>
      <use href="#DejaVuSans-2c" transform="translate(576.025391 0.684375)"/>
      <use href="#DejaVuSans-20" transform="translate(607.8125 0.684375)"/>
      <use href="#DejaVuSans-73" transform="translate(639.599609 0.684375)"/>
      <use href="#DejaVuSans-2212" transform="translate(692.65625 38.965625) scale(0.7)"/>
      <use href="#DejaVuSans-31" transform="translate(751.308594 38.965625) scale(0.7)"/>
      <use href="#DejaVuSans-29" transform="translate(798.579102 0.684375)"/>
     </g>
    </g>
   </g>
   <g id="line2d_84">
    <path d="M 52.90943 124.181492 
L 71.59337 158.441702 
L 87.28788 186.764837 
L 98.000005 205.68956 
L 106.220939 219.766815 
L 113.196276 231.276412 
L 119.424256 241.131705 
L 125.153998 249.785924 
L 130.385501 257.2953 
L 135.367885 264.060309 
L 140.10115 270.104827 
L 144.585295 275.459717 
L 148.820322 280.16157 
L 152.806229 284.251516 
L 156.293898 287.538086 
L 159.283328 290.054734 
L 161.77452 291.866413 
L 164.016593 293.225554 
L 166.009547 294.183606 
L 167.753381 294.805328 
L 169.497215 295.204807 
L 171.24105 295.36285 
L 172.735765 295.291587 
L 174.23048 295.016451 
L 175.725195 294.524824 
L 177.219911 293.804081 
L 178.714626 292.841598 
L 180.209341 291.625169 
L 181.953175 289.890731 
L 183.946129 287.537682 
L 186.188202 284.485946 
L 188.679394 280.6881 
L 191.917943 275.288223 
L 196.900327 266.457397 
L 199.1424 262.2336 
L 201.046656 227.445614 
L 201.760262 210.40204 
L 202.096401 197.427084 
L 202.232673 182.488199 
L 202.407675 164.711328 
L 202.704274 158.208134 
L 203.175477 152.718546 
L 203.892109 146.991928 
L 204.938014 140.417386 
L 206.077048 134.599473 
L 207.00766 130.881612 
L 208.008744 127.813681 
L 209.160323 124.951035 
L 210.113053 123.140341 
L 211.014476 121.863567 
L 212.043908 120.802977 
L 213.163208 119.97776 
L 214.328876 119.402079 
L 215.5125 119.080447 
L 216.737887 118.983977 
L 218.209618 119.099607 
L 220.164394 119.487913 
L 223.405724 120.396545 
L 233.334696 123.298742 
L 234.918913 123.443273 
L 236.559938 123.362151 
L 238.245014 123.032703 
L 239.92882 122.488616 
L 241.789885 121.653415 
L 243.514608 120.645729 
L 245.035478 119.520591 
L 246.520216 118.124463 
L 248.023298 116.360875 
L 250.002822 113.636732 
L 253.668943 108.171294 
L 256.282771 103.952257 
L 256.282771 103.952257 
" clip-path="url(#pfd4b7a92da)" style="fill: none; stroke: #ffa500; stroke-width: 3; stroke-linecap: square"/>
   </g>
   <g id="line2d_85">
    <path d="M 52.918662 115.569163 
L 65.163197 136.113457 
L 86.403718 172.050454 
L 92.151153 180.97524 
L 103.396135 197.899699 
L 109.893235 207.468438 
L 114.14134 213.333954 
L 117.639778 217.792468 
L 121.388106 222.212941 
L 125.886098 227.171964 
L 132.383199 233.975035 
L 136.631303 238.136685 
L 139.879853 241.036867 
L 142.878515 243.419541 
L 145.627288 245.31736 
L 148.376061 246.938048 
L 151.124835 248.281637 
L 153.62372 249.26265 
L 156.122604 250.014706 
L 158.621489 250.537828 
L 161.120374 250.832041 
L 163.619259 250.89767 
L 166.118144 250.739098 
L 168.617028 250.363599 
L 171.115913 249.778508 
L 173.864686 248.901585 
L 176.61346 247.789697 
L 179.612122 246.320227 
L 182.610783 244.595365 
L 185.359557 242.777505 
L 187.858441 240.868153 
L 190.107438 238.889278 
L 192.356434 236.618216 
L 194.60543 234.011151 
L 196.854427 231.024268 
L 198.853535 228.01498 
L 199.6032 226.7904 
L 200.829717 213.077824 
L 201.343662 204.663459 
L 201.619781 196.337458 
L 201.755131 184.842551 
L 201.971566 162.408007 
L 202.279511 156.719664 
L 202.785359 151.569303 
L 203.60159 145.62469 
L 204.991535 137.191927 
L 206.451054 129.531051 
L 207.205242 126.714613 
L 208.040847 124.368423 
L 208.947472 122.481138 
L 209.834667 121.108269 
L 210.871339 119.908474 
L 212.051929 118.912847 
L 213.19844 118.233306 
L 214.437989 117.747168 
L 215.914725 117.415961 
L 217.387441 117.303754 
L 218.963141 117.411401 
L 220.668919 117.765046 
L 224.08963 118.781969 
L 229.259273 120.252282 
L 231.952704 120.791742 
L 233.981643 120.967339 
L 235.816921 120.89235 
L 237.665862 120.588848 
L 239.705752 120.021598 
L 241.890474 119.168582 
L 243.786177 118.201045 
L 245.563514 117.031507 
L 247.036723 115.78972 
L 248.382698 114.368364 
L 249.743274 112.599979 
L 251.096026 110.454694 
L 252.625771 107.547421 
L 256.254303 99.968798 
L 256.254303 99.968798 
" clip-path="url(#pfd4b7a92da)" style="fill: none; stroke: #ff0000; stroke-width: 3; stroke-linecap: square"/>
   </g>
   <g id="line2d_86">
    <path d="M 52.918662 115.529802 
L 61.41487 129.811599 
L 85.404164 170.396114 
L 92.151153 181.221092 
L 97.898588 190.025447 
L 102.646469 196.908175 
L 106.644685 202.334992 
L 110.393012 207.045262 
L 113.641563 210.783298 
L 116.640224 213.914785 
L 119.638886 216.739971 
L 122.887436 219.493893 
L 126.385875 222.152859 
L 130.134202 224.710555 
L 134.382307 227.329847 
L 139.879853 230.435679 
L 149.625504 235.643795 
L 155.622827 238.614752 
L 160.620597 240.845047 
L 164.868701 242.50734 
L 168.36714 243.664351 
L 171.115913 244.337676 
L 173.36491 244.659653 
L 175.364017 244.726422 
L 177.113237 244.584682 
L 178.862456 244.229815 
L 180.611675 243.63671 
L 182.360895 242.780272 
L 184.110114 241.651671 
L 186.109222 240.078088 
L 188.608107 237.787501 
L 192.106546 234.220377 
L 197.604092 228.59159 
L 199.6032 226.7904 
L 200.829717 213.077824 
L 201.343662 204.663459 
L 201.619781 196.337458 
L 201.755131 184.842551 
L 201.971566 162.408007 
L 202.279511 156.719664 
L 202.785359 151.569303 
L 203.60159 145.62469 
L 204.991535 137.191927 
L 206.451054 129.531051 
L 207.205242 126.714613 
L 208.040847 124.368423 
L 208.947472 122.481138 
L 209.834667 121.108269 
L 210.871339 119.908474 
L 212.051929 118.912847 
L 213.19844 118.233306 
L 214.437989 117.747168 
L 215.914725 117.415961 
L 217.387441 117.303754 
L 218.963141 117.411401 
L 220.668919 117.765046 
L 224.08963 118.781969 
L 229.259273 120.252282 
L 231.952704 120.791742 
L 233.981643 120.967339 
L 235.816921 120.89235 
L 237.665862 120.588848 
L 239.705752 120.021598 
L 241.890474 119.168582 
L 243.786177 118.201045 
L 245.563514 117.031507 
L 247.036723 115.78972 
L 248.382698 114.368364 
L 249.743274 112.599979 
L 251.096026 110.454694 
L 252.625771 107.547421 
L 256.254303 99.968798 
L 256.254303 99.968798 
" clip-path="url(#pfd4b7a92da)" style="fill: none; stroke: #000000; stroke-width: 3; stroke-linecap: square"/>
   </g>
   <g id="line2d_87">
    <path d="M 52.820963 142.337034 
L 56.688914 147.662116 
L 60.798611 153.715865 
L 65.391802 160.899462 
L 70.468487 169.264622 
L 76.51216 179.668932 
L 84.731555 194.303128 
L 102.37908 225.837789 
L 108.906246 236.972471 
L 114.224678 245.630136 
L 119.059617 253.087474 
L 123.411061 259.398933 
L 127.520759 264.96094 
L 131.146962 269.509655 
L 134.531419 273.423847 
L 137.915876 276.996447 
L 141.058586 279.989886 
L 143.959549 282.46143 
L 146.860512 284.639598 
L 149.519728 286.367383 
L 152.178944 287.827632 
L 154.596413 288.914515 
L 157.013882 289.764436 
L 159.431351 290.369841 
L 161.607073 290.699405 
L 163.782795 290.819289 
L 165.958518 290.723988 
L 168.13424 290.407997 
L 170.309962 289.86581 
L 172.485684 289.091923 
L 174.661406 288.080828 
L 176.837129 286.827022 
L 179.012851 285.324999 
L 181.188573 283.569253 
L 183.606042 281.314152 
L 186.023511 278.731464 
L 188.44098 275.813637 
L 190.858449 272.55312 
L 193.275919 268.94236 
L 194.7264 266.6112 
L 198.302479 219.011562 
L 199.905 200.461181 
L 201.233725 187.679652 
L 204.238508 161.863056 
L 205.284479 154.793012 
L 206.494004 148.249297 
L 208.422777 139.239612 
L 210.051731 132.300808 
L 210.995065 129.252235 
L 211.942255 126.908245 
L 213.066385 124.763019 
L 214.466992 122.59874 
L 216.264143 120.239226 
L 219.150712 116.858186 
L 222.814139 112.936012 
L 226.629893 109.159287 
L 229.652998 106.460177 
L 232.470001 104.231559 
L 235.037629 102.472475 
L 237.520626 101.031934 
L 240.273428 99.6947 
L 243.519284 98.370151 
L 246.562641 97.35513 
L 248.501099 96.927583 
L 250.661712 96.69358 
L 253.416619 96.64561 
L 256.12761 96.806357 
L 256.268833 96.822626 
L 256.268833 96.822626 
" clip-path="url(#pfd4b7a92da)" style="fill: none; stroke: #0000ff; stroke-width: 3; stroke-linecap: square"/>
   </g>
   <g id="line2d_88">
    <defs>
     <path id="m1ad704be25" d="M -0 3 
L 3 -3 
L -3 -3 
z
" style="stroke: #32cd32; stroke-linejoin: miter"/>
    </defs>
    <g clip-path="url(#pfd4b7a92da)">
     <use href="#m1ad704be25" x="52.8" y="138.2016" style="fill: #32cd32; stroke: #32cd32; stroke-linejoin: miter"/>
     <use href="#m1ad704be25" x="58.966272" y="138.2016" style="fill: #32cd32; stroke: #32cd32; stroke-linejoin: miter"/>
     <use href="#m1ad704be25" x="65.132544" y="138.2016" style="fill: #32cd32; stroke: #32cd32; stroke-linejoin: miter"/>
     <use href="#m1ad704be25" x="71.298816" y="138.2016" style="fill: #32cd32; stroke: #32cd32; stroke-linejoin: miter"/>
     <use href="#m1ad704be25" x="77.465088" y="138.2016" style="fill: #32cd32; stroke: #32cd32; stroke-linejoin: miter"/>
     <use href="#m1ad704be25" x="83.63136" y="138.2016" style="fill: #32cd32; stroke: #32cd32; stroke-linejoin: miter"/>
     <use href="#m1ad704be25" x="89.797632" y="138.2016" style="fill: #32cd32; stroke: #32cd32; stroke-linejoin: miter"/>
     <use href="#m1ad704be25" x="95.963904" y="138.2016" style="fill: #32cd32; stroke: #32cd32; stroke-linejoin: miter"/>
     <use href="#m1ad704be25" x="102.130176" y="151.7568" style="fill: #32cd32; stroke: #32cd32; stroke-linejoin: miter"/>
     <use href="#m1ad704be25" x="108.296448" y="163.8144" style="fill: #32cd32; stroke: #32cd32; stroke-linejoin: miter"/>
     <use href="#m1ad704be25" x="114.46272" y="173.952" style="fill: #32cd32; stroke: #32cd32; stroke-linejoin: miter"/>
     <use href="#m1ad704be25" x="120.628992" y="182.0928" style="fill: #32cd32; stroke: #32cd32; stroke-linejoin: miter"/>
     <use href="#m1ad704be25" x="126.795264" y="188.352" style="fill: #32cd32; stroke: #32cd32; stroke-linejoin: miter"/>
     <use href="#m1ad704be25" x="132.961536" y="192.768" style="fill: #32cd32; stroke: #32cd32; stroke-linejoin: miter"/>
     <use href="#m1ad704be25" x="139.127808" y="195.648" style="fill: #32cd32; stroke: #32cd32; stroke-linejoin: miter"/>
     <use href="#m1ad704be25" x="145.29408" y="196.8" style="fill: #32cd32; stroke: #32cd32; stroke-linejoin: miter"/>
     <use href="#m1ad704be25" x="151.460352" y="196.3392" style="fill: #32cd32; stroke: #32cd32; stroke-linejoin: miter"/>
     <use href="#m1ad704be25" x="157.626624" y="194.9184" style="fill: #32cd32; stroke: #32cd32; stroke-linejoin: miter"/>
     <use href="#m1ad704be25" x="163.792896" y="192.2304" style="fill: #32cd32; stroke: #32cd32; stroke-linejoin: miter"/>
     <use href="#m1ad704be25" x="169.959168" y="188.5824" style="fill: #32cd32; stroke: #32cd32; stroke-linejoin: miter"/>
     <use href="#m1ad704be25" x="176.12544" y="184.1664" style="fill: #32cd32; stroke: #32cd32; stroke-linejoin: miter"/>
     <use href="#m1ad704be25" x="182.291712" y="178.944" style="fill: #32cd32; stroke: #32cd32; stroke-linejoin: miter"/>
     <use href="#m1ad704be25" x="188.457984" y="173.4144" style="fill: #32cd32; stroke: #32cd32; stroke-linejoin: miter"/>
     <use href="#m1ad704be25" x="194.624256" y="167.1168" style="fill: #32cd32; stroke: #32cd32; stroke-linejoin: miter"/>
     <use href="#m1ad704be25" x="200.790528" y="160.3968" style="fill: #32cd32; stroke: #32cd32; stroke-linejoin: miter"/>
     <use href="#m1ad704be25" x="206.9568" y="152.1792" style="fill: #32cd32; stroke: #32cd32; stroke-linejoin: miter"/>
     <use href="#m1ad704be25" x="213.123072" y="142.3104" style="fill: #32cd32; stroke: #32cd32; stroke-linejoin: miter"/>
     <use href="#m1ad704be25" x="219.289344" y="128.9472" style="fill: #32cd32; stroke: #32cd32; stroke-linejoin: miter"/>
     <use href="#m1ad704be25" x="225.455616" y="110.4384" style="fill: #32cd32; stroke: #32cd32; stroke-linejoin: miter"/>
     <use href="#m1ad704be25" x="231.621888" y="108.5952" style="fill: #32cd32; stroke: #32cd32; stroke-linejoin: miter"/>
     <use href="#m1ad704be25" x="237.78816" y="108.5952" style="fill: #32cd32; stroke: #32cd32; stroke-linejoin: miter"/>
     <use href="#m1ad704be25" x="243.954432" y="108.5952" style="fill: #32cd32; stroke: #32cd32; stroke-linejoin: miter"/>
     <use href="#m1ad704be25" x="250.120704" y="108.5952" style="fill: #32cd32; stroke: #32cd32; stroke-linejoin: miter"/>
     <use href="#m1ad704be25" x="256.286976" y="108.5952" style="fill: #32cd32; stroke: #32cd32; stroke-linejoin: miter"/>
    </g>
   </g>
   <g id="patch_3">
    <path d="M 52.992 313.9968 
L 52.992 23.6544 
" style="fill: none; stroke: #000000; stroke-width: 0.8; stroke-linejoin: miter; stroke-linecap: square"/>
   </g>
   <g id="patch_4">
    <path d="M 256.2432 313.9968 
L 256.2432 23.6544 
" style="fill: none; stroke: #000000; stroke-width: 0.8; stroke-linejoin: miter; stroke-linecap: square"/>
   </g>
   <g id="patch_5">
    <path d="M 52.992 313.9968 
L 256.2432 313.9968 
" style="fill: none; stroke: #000000; stroke-width: 0.8; stroke-linejoin: miter; stroke-linecap: square"/>
   </g>
   <g id="patch_6">
    <path d="M 52.992 23.6544 
L 256.2432 23.6544 
" style="fill: none; stroke: #000000; stroke-width: 0.8; stroke-linejoin: miter; stroke-linecap: square"/>
   </g>
   <g id="ttl0" transform="translate(73.5617 6.8544) scale(1.01600 1.00000) translate(-73.8689 -6.8544)">
    <!-- (a) Rain rate = 0.5 mm h$^{-1}$ -->
    <g transform="translate(72.8376 17.6544) scale(0.12 -0.12)">
     <defs>
      <path id="DejaVuSans-52" d="M 2841 2188 
Q 3044 2119 3236 1894 
Q 3428 1669 3622 1275 
L 4263 0 
L 3584 0 
L 2988 1197 
Q 2756 1666 2539 1819 
Q 2322 1972 1947 1972 
L 1259 1972 
L 1259 0 
L 628 0 
L 628 4666 
L 2053 4666 
Q 2853 4666 3247 4331 
Q 3641 3997 3641 3322 
Q 3641 2881 3436 2590 
Q 3231 2300 2841 2188 
z
M 1259 4147 
L 1259 2491 
L 2053 2491 
Q 2509 2491 2742 2702 
Q 2975 2913 2975 3322 
Q 2975 3731 2742 3939 
Q 2509 4147 2053 4147 
L 1259 4147 
z
" transform="scale(0.015625)"/>
      <path id="DejaVuSans-6e" d="M 3513 2113 
L 3513 0 
L 2938 0 
L 2938 2094 
Q 2938 2591 2744 2837 
Q 2550 3084 2163 3084 
Q 1697 3084 1428 2787 
Q 1159 2491 1159 1978 
L 1159 0 
L 581 0 
L 581 3500 
L 1159 3500 
L 1159 2956 
Q 1366 3272 1645 3428 
Q 1925 3584 2291 3584 
Q 2894 3584 3203 3211 
Q 3513 2838 3513 2113 
z
" transform="scale(0.015625)"/>
      <path id="DejaVuSans-3d" d="M 678 2906 
L 4684 2906 
L 4684 2381 
L 678 2381 
L 678 2906 
z
M 678 1631 
L 4684 1631 
L 4684 1100 
L 678 1100 
L 678 1631 
z
" transform="scale(0.015625)"/>
      <path id="DejaVuSans-68" d="M 3513 2113 
L 3513 0 
L 2938 0 
L 2938 2094 
Q 2938 2591 2744 2837 
Q 2550 3084 2163 3084 
Q 1697 3084 1428 2787 
Q 1159 2491 1159 1978 
L 1159 0 
L 581 0 
L 581 4863 
L 1159 4863 
L 1159 2956 
Q 1366 3272 1645 3428 
Q 1925 3584 2291 3584 
Q 2894 3584 3203 3211 
Q 3513 2838 3513 2113 
z
" transform="scale(0.015625)"/>
     </defs>
     <use href="#DejaVuSans-28" transform="translate(0 0.684375)"/>
     <use href="#DejaVuSans-61" transform="translate(39.013672 0.684375)"/>
     <use href="#DejaVuSans-29" transform="translate(100.292969 0.684375)"/>
     <use href="#DejaVuSans-20" transform="translate(139.306641 0.684375)"/>
     <use href="#DejaVuSans-52" transform="translate(171.09375 0.684375)"/>
     <use href="#DejaVuSans-61" transform="translate(240.576172 0.684375)"/>
     <use href="#DejaVuSans-69" transform="translate(301.855469 0.684375)"/>
     <use href="#DejaVuSans-6e" transform="translate(329.638672 0.684375)"/>
     <use href="#DejaVuSans-20" transform="translate(393.017578 0.684375)"/>
     <use href="#DejaVuSans-72" transform="translate(424.804688 0.684375)"/>
     <use href="#DejaVuSans-61" transform="translate(465.917969 0.684375)"/>
     <use href="#DejaVuSans-74" transform="translate(527.197266 0.684375)"/>
     <use href="#DejaVuSans-65" transform="translate(566.40625 0.684375)"/>
     <use href="#DejaVuSans-20" transform="translate(627.929688 0.684375)"/>
     <use href="#DejaVuSans-3d" transform="translate(659.716797 0.684375)"/>
     <use href="#DejaVuSans-20" transform="translate(743.505859 0.684375)"/>
     <use href="#DejaVuSans-30" transform="translate(775.292969 0.684375)"/>
     <use href="#DejaVuSans-2e" transform="translate(838.916016 0.684375)"/>
     <use href="#DejaVuSans-35" transform="translate(870.703125 0.684375)"/>
     <use href="#DejaVuSans-20" transform="translate(934.326172 0.684375)"/>
     <use href="#DejaVuSans-6d" transform="translate(966.113281 0.684375)"/>
     <use href="#DejaVuSans-6d" transform="translate(1063.525391 0.684375)"/>
     <use href="#DejaVuSans-20" transform="translate(1160.9375 0.684375)"/>
     <use href="#DejaVuSans-68" transform="translate(1192.724609 0.684375)"/>
     <use href="#DejaVuSans-2212" transform="translate(1257.060547 38.965625) scale(0.7)"/>
     <use href="#DejaVuSans-31" transform="translate(1315.712891 38.965625) scale(0.7)"/>
    </g>
   </g>
   <g id="legend_1">
    <g id="lgh0" transform="translate(62.2224 36.8680) scale(1.02000 1.00000) translate(-61.9920 -36.7528)">
     <path d="M 61.992 36.752837 
L 71.992 36.752837 
L 81.992 36.752837 
" style="fill: none; stroke: #ffa500; stroke-width: 3; stroke-linecap: square"/>
    </g>
    <g id="lgt0" transform="translate(91.3426 32.7696) scale(1.01300 1.00000) translate(-90.6514 -32.6544)">
     <!-- Slinn -->
     <g transform="translate(89.992 40.252837) scale(0.1 -0.1)">
      <use href="#DejaVuSans-53"/>
      <use href="#DejaVuSans-6c" transform="translate(63.476562 0)"/>
      <use href="#DejaVuSans-69" transform="translate(91.259766 0)"/>
      <use href="#DejaVuSans-6e" transform="translate(119.042969 0)"/>
      <use href="#DejaVuSans-6e" transform="translate(182.421875 0)"/>
     </g>
    </g>
    <g id="lgh1" transform="translate(62.2224 51.7286) scale(1.02000 1.00000) translate(-61.9920 -51.4310)">
     <path d="M 61.992 51.430962 
L 71.992 51.430962 
L 81.992 51.430962 
" style="fill: none; stroke: #ff0000; stroke-width: 3; stroke-linecap: square"/>
    </g>
    <g id="lgt1" transform="translate(91.3426 47.6301) scale(1.01300 1.00000) translate(-90.6514 -47.3325)">
     <!-- Slinn+ph -->
     <g transform="translate(89.992 54.930962) scale(0.1 -0.1)">
      <defs>
       <path id="DejaVuSans-2b" d="M 2944 4013 
L 2944 2272 
L 4684 2272 
L 4684 1741 
L 2944 1741 
L 2944 0 
L 2419 0 
L 2419 1741 
L 678 1741 
L 678 2272 
L 2419 2272 
L 2419 4013 
L 2944 4013 
z
" transform="scale(0.015625)"/>
       <path id="DejaVuSans-70" d="M 1159 525 
L 1159 -1331 
L 581 -1331 
L 581 3500 
L 1159 3500 
L 1159 2969 
Q 1341 3281 1617 3432 
Q 1894 3584 2278 3584 
Q 2916 3584 3314 3078 
Q 3713 2572 3713 1747 
Q 3713 922 3314 415 
Q 2916 -91 2278 -91 
Q 1894 -91 1617 61 
Q 1341 213 1159 525 
z
M 3116 1747 
Q 3116 2381 2855 2742 
Q 2594 3103 2138 3103 
Q 1681 3103 1420 2742 
Q 1159 2381 1159 1747 
Q 1159 1113 1420 752 
Q 1681 391 2138 391 
Q 2594 391 2855 752 
Q 3116 1113 3116 1747 
z
" transform="scale(0.015625)"/>
      </defs>
      <use href="#DejaVuSans-53"/>
      <use href="#DejaVuSans-6c" transform="translate(63.476562 0)"/>
      <use href="#DejaVuSans-69" transform="translate(91.259766 0)"/>
      <use href="#DejaVuSans-6e" transform="translate(119.042969 0)"/>
      <use href="#DejaVuSans-6e" transform="translate(182.421875 0)"/>
      <use href="#DejaVuSans-2b" transform="translate(245.800781 0)"/>
      <use href="#DejaVuSans-70" transform="translate(329.589844 0)"/>
      <use href="#DejaVuSans-68" transform="translate(393.066406 0)"/>
     </g>
    </g>
    <g id="lgh2" transform="translate(62.2224 66.5891) scale(1.02000 1.00000) translate(-61.9920 -66.1091)">
     <path d="M 61.992 66.109087 
L 71.992 66.109087 
L 81.992 66.109087 
" style="fill: none; stroke: #000000; stroke-width: 3; stroke-linecap: square"/>
    </g>
    <g id="lgt2" transform="translate(91.3426 62.4906) scale(1.01300 1.00000) translate(-90.6514 -62.0106)">
     <!-- Slinn+ph+rc -->
     <g transform="translate(89.992 69.609087) scale(0.1 -0.1)">
      <use href="#DejaVuSans-53"/>
      <use href="#DejaVuSans-6c" transform="translate(63.476562 0)"/>
      <use href="#DejaVuSans-69" transform="translate(91.259766 0)"/>
      <use href="#DejaVuSans-6e" transform="translate(119.042969 0)"/>
      <use href="#DejaVuSans-6e" transform="translate(182.421875 0)"/>
      <use href="#DejaVuSans-2b" transform="translate(245.800781 0)"/>
      <use href="#DejaVuSans-70" transform="translate(329.589844 0)"/>
      <use href="#DejaVuSans-68" transform="translate(393.066406 0)"/>
      <use href="#DejaVuSans-2b" transform="translate(456.445312 0)"/>
      <use href="#DejaVuSans-72" transform="translate(540.234375 0)"/>
      <use href="#DejaVuSans-63" transform="translate(579.097656 0)"/>
     </g>
    </g>
    <g id="lgh3" transform="translate(62.2224 81.4496) scale(1.02000 1.00000) translate(-61.9920 -80.7872)">
     <path d="M 61.992 80.787212 
L 71.992 80.787212 
L 81.992 80.787212 
" style="fill: none; stroke: #0000ff; stroke-width: 3; stroke-linecap: square"/>
    </g>
    <g id="lgt3" transform="translate(91.0160 77.6590) scale(1.01300 1.00000) translate(-90.3248 -76.9966)">
     <!-- Wang -->
     <g transform="translate(89.992 84.287212) scale(0.1 -0.1)">
      <defs>
       <path id="DejaVuSans-57" d="M 213 4666 
L 850 4666 
L 1831 722 
L 2809 4666 
L 3519 4666 
L 4500 722 
L 5478 4666 
L 6119 4666 
L 4947 0 
L 4153 0 
L 3169 4050 
L 2175 0 
L 1381 0 
L 213 4666 
z
" transform="scale(0.015625)"/>
       <path id="DejaVuSans-67" d="M 2906 1791 
Q 2906 2416 2648 2759 
Q 2391 3103 1925 3103 
Q 1463 3103 1205 2759 
Q 947 2416 947 1791 
Q 947 1169 1205 825 
Q 1463 481 1925 481 
Q 2391 481 2648 825 
Q 2906 1169 2906 1791 
z
M 3481 434 
Q 3481 -459 3084 -895 
Q 2688 -1331 1869 -1331 
Q 1566 -1331 1297 -1286 
Q 1028 -1241 775 -1147 
L 775 -588 
Q 1028 -725 1275 -790 
Q 1522 -856 1778 -856 
Q 2344 -856 2625 -561 
Q 2906 -266 2906 331 
L 2906 616 
Q 2728 306 2450 153 
Q 2172 0 1784 0 
Q 1141 0 747 490 
Q 353 981 353 1791 
Q 353 2603 747 3093 
Q 1141 3584 1784 3584 
Q 2172 3584 2450 3431 
Q 2728 3278 2906 2969 
L 2906 3500 
L 3481 3500 
L 3481 434 
z
" transform="scale(0.015625)"/>
      </defs>
      <use href="#DejaVuSans-57"/>
      <use href="#DejaVuSans-61" transform="translate(92.501953 0)"/>
      <use href="#DejaVuSans-6e" transform="translate(153.78125 0)"/>
      <use href="#DejaVuSans-67" transform="translate(217.160156 0)"/>
     </g>
    </g>
    <g id="lgh4" transform="translate(69.2992 93.3101) scale(1.00000 1.00000) translate(-68.9920 -92.4653)">
     <g>
      <use href="#m1ad704be25" x="71.992" y="95.465337" style="fill: #32cd32; stroke: #32cd32; stroke-linejoin: miter"/>
     </g>
    </g>
    <g id="lgt4" transform="translate(91.6644 92.2117) scale(1.01300 1.00000) translate(-90.9732 -91.3669)">
     <!-- Laakso -->
     <g transform="translate(89.992 98.965337) scale(0.1 -0.1)">
      <defs>
       <path id="DejaVuSans-4c" d="M 628 4666 
L 1259 4666 
L 1259 531 
L 3531 531 
L 3531 0 
L 628 0 
L 628 4666 
z
" transform="scale(0.015625)"/>
       <path id="DejaVuSans-6b" d="M 581 4863 
L 1159 4863 
L 1159 1991 
L 2875 3500 
L 3609 3500 
L 1753 1863 
L 3688 0 
L 2938 0 
L 1159 1709 
L 1159 0 
L 581 0 
L 581 4863 
z
" transform="scale(0.015625)"/>
       <path id="DejaVuSans-6f" d="M 1959 3097 
Q 1497 3097 1228 2736 
Q 959 2375 959 1747 
Q 959 1119 1226 758 
Q 1494 397 1959 397 
Q 2419 397 2687 759 
Q 2956 1122 2956 1747 
Q 2956 2369 2687 2733 
Q 2419 3097 1959 3097 
z
M 1959 3584 
Q 2709 3584 3137 3096 
Q 3566 2609 3566 1747 
Q 3566 888 3137 398 
Q 2709 -91 1959 -91 
Q 1206 -91 779 398 
Q 353 888 353 1747 
Q 353 2609 779 3096 
Q 1206 3584 1959 3584 
z
" transform="scale(0.015625)"/>
      </defs>
      <use href="#DejaVuSans-4c"/>
      <use href="#DejaVuSans-61" transform="translate(55.712891 0)"/>
      <use href="#DejaVuSans-61" transform="translate(116.992188 0)"/>
      <use href="#DejaVuSans-6b" transform="translate(178.271484 0)"/>
      <use href="#DejaVuSans-73" transform="translate(236.181641 0)"/>
      <use href="#DejaVuSans-6f" transform="translate(288.28125 0)"/>
     </g>
    </g>
   </g>
  </g>
  <g id="axes_2">
   <g id="patch_7">
    <path d="M 318.0672 313.9968 
L 521.3568 313.9968 
L 521.3568 23.6544 
L 318.0672 23.6544 
z
" style="fill: #ffffff"/>
   </g>
   <g id="matplotlib.axis_3">
    <g id="xtick_42">
     <g id="line2d_89">
      <g>
       <use href="#m1504cfccaf" x="318.0672" y="313.9968" style="stroke: #000000; stroke-width: 0.8"/>
      </g>
     </g>
     <g id="xt1_0">
      <!-- 0.001 -->
      <g transform="translate(303.753137 328.595237) scale(0.1 -0.1)">
       <use href="#DejaVuSans-30"/>
       <use href="#DejaVuSans-2e" transform="translate(63.623047 0)"/>
       <use href="#DejaVuSans-30" transform="translate(95.410156 0)"/>
       <use href="#DejaVuSans-30" transform="translate(159.033203 0)"/>
       <use href="#DejaVuSans-31" transform="translate(222.65625 0)"/>
      </g>
     </g>
    </g>
    <g id="xtick_43">
     <g id="line2d_90">
      <g>
       <use href="#m1504cfccaf" x="361.329787" y="313.9968" style="stroke: #000000; stroke-width: 0.8"/>
      </g>
     </g>
     <g id="xt1_1">
      <!-- 0.01 -->
      <g transform="translate(350.196975 328.595237) scale(0.1 -0.1)">
       <use href="#DejaVuSans-30"/>
       <use href="#DejaVuSans-2e" transform="translate(63.623047 0)"/>
       <use href="#DejaVuSans-30" transform="translate(95.410156 0)"/>
       <use href="#DejaVuSans-31" transform="translate(159.033203 0)"/>
      </g>
     </g>
    </g>
    <g id="xtick_44">
     <g id="line2d_91">
      <g>
       <use href="#m1504cfccaf" x="404.592375" y="313.9968" style="stroke: #000000; stroke-width: 0.8"/>
      </g>
     </g>
     <g id="xt1_2">
      <!-- 0.1 -->
      <g transform="translate(396.640812 328.595237) scale(0.1 -0.1)">
       <use href="#DejaVuSans-30"/>
       <use href="#DejaVuSans-2e" transform="translate(63.623047 0)"/>
       <use href="#DejaVuSans-31" transform="translate(95.410156 0)"/>
      </g>
     </g>
    </g>
    <g id="xtick_45">
     <g id="line2d_92">
      <g>
       <use href="#m1504cfccaf" x="447.854962" y="313.9968" style="stroke: #000000; stroke-width: 0.8"/>
      </g>
     </g>
     <g id="xt1_3">
      <!-- 1 -->
      <g transform="translate(444.673712 328.595237) scale(0.1 -0.1)">
       <use href="#DejaVuSans-31"/>
      </g>
     </g>
    </g>
    <g id="xtick_46">
     <g id="line2d_93">
      <g>
       <use href="#m1504cfccaf" x="491.117549" y="313.9968" style="stroke: #000000; stroke-width: 0.8"/>
      </g>
     </g>
     <g id="xt1_4">
      <!-- 10 -->
      <g transform="translate(484.755049 328.595237) scale(0.1 -0.1)">
       <use href="#DejaVuSans-31"/>
       <use href="#DejaVuSans-30" transform="translate(63.623047 0)"/>
      </g>
     </g>
    </g>
    <g id="xtick_47">
     <g id="line2d_94">
      <g>
       <use href="#m05db3bdf9b" x="331.090536" y="313.9968" style="stroke: #000000; stroke-width: 0.6"/>
      </g>
     </g>
    </g>
    <g id="xtick_48">
     <g id="line2d_95">
      <g>
       <use href="#m05db3bdf9b" x="338.7087" y="313.9968" style="stroke: #000000; stroke-width: 0.6"/>
      </g>
     </g>
    </g>
    <g id="xtick_49">
     <g id="line2d_96">
      <g>
       <use href="#m05db3bdf9b" x="344.113873" y="313.9968" style="stroke: #000000; stroke-width: 0.6"/>
      </g>
     </g>
    </g>
    <g id="xtick_50">
     <g id="line2d_97">
      <g>
       <use href="#m05db3bdf9b" x="348.306451" y="313.9968" style="stroke: #000000; stroke-width: 0.6"/>
      </g>
     </g>
    </g>
    <g id="xtick_51">
     <g id="line2d_98">
      <g>
       <use href="#m05db3bdf9b" x="351.732036" y="313.9968" style="stroke: #000000; stroke-width: 0.6"/>
      </g>
     </g>
    </g>
    <g id="xtick_52">
     <g id="line2d_99">
      <g>
       <use href="#m05db3bdf9b" x="354.628328" y="313.9968" style="stroke: #000000; stroke-width: 0.6"/>
      </g>
     </g>
    </g>
    <g id="xtick_53">
     <g id="line2d_100">
      <g>
       <use href="#m05db3bdf9b" x="357.137209" y="313.9968" style="stroke: #000000; stroke-width: 0.6"/>
      </g>
     </g>
    </g>
    <g id="xtick_54">
     <g id="line2d_101">
      <g>
       <use href="#m05db3bdf9b" x="359.3502" y="313.9968" style="stroke: #000000; stroke-width: 0.6"/>
      </g>
     </g>
    </g>
    <g id="xtick_55">
     <g id="line2d_102">
      <g>
       <use href="#m05db3bdf9b" x="374.353124" y="313.9968" style="stroke: #000000; stroke-width: 0.6"/>
      </g>
     </g>
    </g>
    <g id="xtick_56">
     <g id="line2d_103">
      <g>
       <use href="#m05db3bdf9b" x="381.971287" y="313.9968" style="stroke: #000000; stroke-width: 0.6"/>
      </g>
     </g>
    </g>
    <g id="xtick_57">
     <g id="line2d_104">
      <g>
       <use href="#m05db3bdf9b" x="387.37646" y="313.9968" style="stroke: #000000; stroke-width: 0.6"/>
      </g>
     </g>
    </g>
    <g id="xtick_58">
     <g id="line2d_105">
      <g>
       <use href="#m05db3bdf9b" x="391.569038" y="313.9968" style="stroke: #000000; stroke-width: 0.6"/>
      </g>
     </g>
    </g>
    <g id="xtick_59">
     <g id="line2d_106">
      <g>
       <use href="#m05db3bdf9b" x="394.994624" y="313.9968" style="stroke: #000000; stroke-width: 0.6"/>
      </g>
     </g>
    </g>
    <g id="xtick_60">
     <g id="line2d_107">
      <g>
       <use href="#m05db3bdf9b" x="397.890915" y="313.9968" style="stroke: #000000; stroke-width: 0.6"/>
      </g>
     </g>
    </g>
    <g id="xtick_61">
     <g id="line2d_108">
      <g>
       <use href="#m05db3bdf9b" x="400.399797" y="313.9968" style="stroke: #000000; stroke-width: 0.6"/>
      </g>
     </g>
    </g>
    <g id="xtick_62">
     <g id="line2d_109">
      <g>
       <use href="#m05db3bdf9b" x="402.612787" y="313.9968" style="stroke: #000000; stroke-width: 0.6"/>
      </g>
     </g>
    </g>
    <g id="xtick_63">
     <g id="line2d_110">
      <g>
       <use href="#m05db3bdf9b" x="417.615711" y="313.9968" style="stroke: #000000; stroke-width: 0.6"/>
      </g>
     </g>
    </g>
    <g id="xtick_64">
     <g id="line2d_111">
      <g>
       <use href="#m05db3bdf9b" x="425.233875" y="313.9968" style="stroke: #000000; stroke-width: 0.6"/>
      </g>
     </g>
    </g>
    <g id="xtick_65">
     <g id="line2d_112">
      <g>
       <use href="#m05db3bdf9b" x="430.639048" y="313.9968" style="stroke: #000000; stroke-width: 0.6"/>
      </g>
     </g>
    </g>
    <g id="xtick_66">
     <g id="line2d_113">
      <g>
       <use href="#m05db3bdf9b" x="434.831625" y="313.9968" style="stroke: #000000; stroke-width: 0.6"/>
      </g>
     </g>
    </g>
    <g id="xtick_67">
     <g id="line2d_114">
      <g>
       <use href="#m05db3bdf9b" x="438.257211" y="313.9968" style="stroke: #000000; stroke-width: 0.6"/>
      </g>
     </g>
    </g>
    <g id="xtick_68">
     <g id="line2d_115">
      <g>
       <use href="#m05db3bdf9b" x="441.153502" y="313.9968" style="stroke: #000000; stroke-width: 0.6"/>
      </g>
     </g>
    </g>
    <g id="xtick_69">
     <g id="line2d_116">
      <g>
       <use href="#m05db3bdf9b" x="443.662384" y="313.9968" style="stroke: #000000; stroke-width: 0.6"/>
      </g>
     </g>
    </g>
    <g id="xtick_70">
     <g id="line2d_117">
      <g>
       <use href="#m05db3bdf9b" x="445.875374" y="313.9968" style="stroke: #000000; stroke-width: 0.6"/>
      </g>
     </g>
    </g>
    <g id="xtick_71">
     <g id="line2d_118">
      <g>
       <use href="#m05db3bdf9b" x="460.878298" y="313.9968" style="stroke: #000000; stroke-width: 0.6"/>
      </g>
     </g>
    </g>
    <g id="xtick_72">
     <g id="line2d_119">
      <g>
       <use href="#m05db3bdf9b" x="468.496462" y="313.9968" style="stroke: #000000; stroke-width: 0.6"/>
      </g>
     </g>
    </g>
    <g id="xtick_73">
     <g id="line2d_120">
      <g>
       <use href="#m05db3bdf9b" x="473.901635" y="313.9968" style="stroke: #000000; stroke-width: 0.6"/>
      </g>
     </g>
    </g>
    <g id="xtick_74">
     <g id="line2d_121">
      <g>
       <use href="#m05db3bdf9b" x="478.094213" y="313.9968" style="stroke: #000000; stroke-width: 0.6"/>
      </g>
     </g>
    </g>
    <g id="xtick_75">
     <g id="line2d_122">
      <g>
       <use href="#m05db3bdf9b" x="481.519798" y="313.9968" style="stroke: #000000; stroke-width: 0.6"/>
      </g>
     </g>
    </g>
    <g id="xtick_76">
     <g id="line2d_123">
      <g>
       <use href="#m05db3bdf9b" x="484.41609" y="313.9968" style="stroke: #000000; stroke-width: 0.6"/>
      </g>
     </g>
    </g>
    <g id="xtick_77">
     <g id="line2d_124">
      <g>
       <use href="#m05db3bdf9b" x="486.924971" y="313.9968" style="stroke: #000000; stroke-width: 0.6"/>
      </g>
     </g>
    </g>
    <g id="xtick_78">
     <g id="line2d_125">
      <g>
       <use href="#m05db3bdf9b" x="489.137962" y="313.9968" style="stroke: #000000; stroke-width: 0.6"/>
      </g>
     </g>
    </g>
    <g id="xtick_79">
     <g id="line2d_126">
      <g>
       <use href="#m05db3bdf9b" x="504.140886" y="313.9968" style="stroke: #000000; stroke-width: 0.6"/>
      </g>
     </g>
    </g>
    <g id="xtick_80">
     <g id="line2d_127">
      <g>
       <use href="#m05db3bdf9b" x="511.759049" y="313.9968" style="stroke: #000000; stroke-width: 0.6"/>
      </g>
     </g>
    </g>
    <g id="xtick_81">
     <g id="line2d_128">
      <g>
       <use href="#m05db3bdf9b" x="517.164222" y="313.9968" style="stroke: #000000; stroke-width: 0.6"/>
      </g>
     </g>
    </g>
    <g id="xtick_82">
     <g id="line2d_129">
      <g>
       <use href="#m05db3bdf9b" x="521.3568" y="313.9968" style="stroke: #000000; stroke-width: 0.6"/>
      </g>
     </g>
    </g>
    <g id="xl1" transform="translate(354.8172 335.0589) scale(1.02000 1.00000) translate(-355.3932 -334.6749)">
     <!-- Particle diameter (d$_p$, $\mu$m) -->
     <g transform="translate(354.412 342.274925) scale(0.1 -0.1)">
      <use href="#DejaVuSans-50" transform="translate(0 0.015625)"/>
      <use href="#DejaVuSans-61" transform="translate(60.302734 0.015625)"/>
      <use href="#DejaVuSans-72" transform="translate(121.582031 0.015625)"/>
      <use href="#DejaVuSans-74" transform="translate(162.695312 0.015625)"/>
      <use href="#DejaVuSans-69" transform="translate(201.904297 0.015625)"/>
      <use href="#DejaVuSans-63" transform="translate(229.6875 0.015625)"/>
      <use href="#DejaVuSans-6c" transform="translate(284.667969 0.015625)"/>
      <use href="#DejaVuSans-65" transform="translate(312.451172 0.015625)"/>
      <use href="#DejaVuSans-20" transform="translate(373.974609 0.015625)"/>
      <use href="#DejaVuSans-64" transform="translate(405.761719 0.015625)"/>
      <use href="#DejaVuSans-69" transform="translate(469.238281 0.015625)"/>
      <use href="#DejaVuSans-61" transform="translate(497.021484 0.015625)"/>
      <use href="#DejaVuSans-6d" transform="translate(558.300781 0.015625)"/>
      <use href="#DejaVuSans-65" transform="translate(655.712891 0.015625)"/>
      <use href="#DejaVuSans-74" transform="translate(717.236328 0.015625)"/>
      <use href="#DejaVuSans-65" transform="translate(756.445312 0.015625)"/>
      <use href="#DejaVuSans-72" transform="translate(817.96875 0.015625)"/>
      <use href="#DejaVuSans-20" transform="translate(859.082031 0.015625)"/>
      <use href="#DejaVuSans-28" transform="translate(890.869141 0.015625)"/>
      <use href="#DejaVuSans-64" transform="translate(929.882812 0.015625)"/>
      <use href="#DejaVuSans-Oblique-70" transform="translate(994.316406 -16.390625) scale(0.7)"/>
      <use href="#DejaVuSans-2c" transform="translate(1041.484375 0.015625)"/>
      <use href="#DejaVuSans-20" transform="translate(1073.271484 0.015625)"/>
      <use href="#DejaVuSans-Oblique-3bc" transform="translate(1105.058594 0.015625)"/>
      <use href="#DejaVuSans-6d" transform="translate(1168.681641 0.015625)"/>
      <use href="#DejaVuSans-29" transform="translate(1266.09375 0.015625)"/>
     </g>
    </g>
   </g>
   <g id="matplotlib.axis_4">
    <g id="ytick_43">
     <g id="line2d_130">
      <g>
       <use href="#m5d545ce8f8" x="318.0672" y="313.9968" style="stroke: #000000; stroke-width: 0.8"/>
      </g>
     </g>
     <g id="yt1_1" transform="translate(288.9728 308.7960) scale(1.00000 1.00000) translate(-288.6656 -308.7960)">
      <!-- $\mathdefault{10^{-7}}$ -->
      <g transform="translate(287.5672 317.796019) scale(0.1 -0.1)">
       <use href="#DejaVuSans-31" transform="translate(0 0.684375)"/>
       <use href="#DejaVuSans-30" transform="translate(63.623047 0.684375)"/>
       <use href="#DejaVuSans-2212" transform="translate(128.203125 38.965625) scale(0.7)"/>
       <use href="#DejaVuSans-37" transform="translate(186.855469 38.965625) scale(0.7)"/>
      </g>
     </g>
    </g>
    <g id="ytick_44">
     <g id="line2d_131">
      <g>
       <use href="#m5d545ce8f8" x="318.0672" y="253.2624" style="stroke: #000000; stroke-width: 0.8"/>
      </g>
     </g>
     <g id="yt1_2" transform="translate(288.9728 247.9616) scale(1.00000 1.00000) translate(-288.6656 -247.9616)">
      <!-- $\mathdefault{10^{-6}}$ -->
      <g transform="translate(287.5672 257.061619) scale(0.1 -0.1)">
       <use href="#DejaVuSans-31" transform="translate(0 0.765625)"/>
       <use href="#DejaVuSans-30" transform="translate(63.623047 0.765625)"/>
       <use href="#DejaVuSans-2212" transform="translate(128.203125 39.046875) scale(0.7)"/>
       <use href="#DejaVuSans-36" transform="translate(186.855469 39.046875) scale(0.7)"/>
      </g>
     </g>
    </g>
    <g id="ytick_45">
     <g id="line2d_132">
      <g>
       <use href="#m5d545ce8f8" x="318.0672" y="192.528" style="stroke: #000000; stroke-width: 0.8"/>
      </g>
     </g>
     <g id="yt1_3" transform="translate(288.9728 187.3272) scale(1.00000 1.00000) translate(-288.6656 -187.3272)">
      <!-- $\mathdefault{10^{-5}}$ -->
      <g transform="translate(287.5672 196.327219) scale(0.1 -0.1)">
       <use href="#DejaVuSans-31" transform="translate(0 0.684375)"/>
       <use href="#DejaVuSans-30" transform="translate(63.623047 0.684375)"/>
       <use href="#DejaVuSans-2212" transform="translate(128.203125 38.965625) scale(0.7)"/>
       <use href="#DejaVuSans-35" transform="translate(186.855469 38.965625) scale(0.7)"/>
      </g>
     </g>
    </g>
    <g id="ytick_46">
     <g id="line2d_133">
      <g>
       <use href="#m5d545ce8f8" x="318.0672" y="131.7936" style="stroke: #000000; stroke-width: 0.8"/>
      </g>
     </g>
     <g id="yt1_4" transform="translate(288.9728 126.5928) scale(1.00000 1.00000) translate(-288.6656 -126.5928)">
      <!-- $\mathdefault{10^{-4}}$ -->
      <g transform="translate(287.5672 135.592819) scale(0.1 -0.1)">
       <use href="#DejaVuSans-31" transform="translate(0 0.684375)"/>
       <use href="#DejaVuSans-30" transform="translate(63.623047 0.684375)"/>
       <use href="#DejaVuSans-2212" transform="translate(128.203125 38.965625) scale(0.7)"/>
       <use href="#DejaVuSans-34" transform="translate(186.855469 38.965625) scale(0.7)"/>
      </g>
     </g>
    </g>
    <g id="ytick_47">
     <g id="line2d_134">
      <g>
       <use href="#m5d545ce8f8" x="318.0672" y="71.0592" style="stroke: #000000; stroke-width: 0.8"/>
      </g>
     </g>
     <g id="yt1_5" transform="translate(288.9728 65.7584) scale(1.00000 1.00000) translate(-288.6656 -65.7584)">
      <!-- $\mathdefault{10^{-3}}$ -->
      <g transform="translate(287.5672 74.858419) scale(0.1 -0.1)">
       <use href="#DejaVuSans-31" transform="translate(0 0.765625)"/>
       <use href="#DejaVuSans-30" transform="translate(63.623047 0.765625)"/>
       <use href="#DejaVuSans-2212" transform="translate(128.203125 39.046875) scale(0.7)"/>
       <use href="#DejaVuSans-33" transform="translate(186.855469 39.046875) scale(0.7)"/>
      </g>
     </g>
    </g>
    <g id="ytick_48">
     <g id="line2d_135">
      <g>
       <use href="#mc3d89a154a" x="318.0672" y="295.713924" style="stroke: #000000; stroke-width: 0.6"/>
      </g>
     </g>
    </g>
    <g id="ytick_49">
     <g id="line2d_136">
      <g>
       <use href="#mc3d89a154a" x="318.0672" y="285.019127" style="stroke: #000000; stroke-width: 0.6"/>
      </g>
     </g>
    </g>
    <g id="ytick_50">
     <g id="line2d_137">
      <g>
       <use href="#mc3d89a154a" x="318.0672" y="277.431048" style="stroke: #000000; stroke-width: 0.6"/>
      </g>
     </g>
    </g>
    <g id="ytick_51">
     <g id="line2d_138">
      <g>
       <use href="#mc3d89a154a" x="318.0672" y="271.545276" style="stroke: #000000; stroke-width: 0.6"/>
      </g>
     </g>
    </g>
    <g id="ytick_52">
     <g id="line2d_139">
      <g>
       <use href="#mc3d89a154a" x="318.0672" y="266.736251" style="stroke: #000000; stroke-width: 0.6"/>
      </g>
     </g>
    </g>
    <g id="ytick_53">
     <g id="line2d_140">
      <g>
       <use href="#mc3d89a154a" x="318.0672" y="262.670278" style="stroke: #000000; stroke-width: 0.6"/>
      </g>
     </g>
    </g>
    <g id="ytick_54">
     <g id="line2d_141">
      <g>
       <use href="#mc3d89a154a" x="318.0672" y="259.148171" style="stroke: #000000; stroke-width: 0.6"/>
      </g>
     </g>
    </g>
    <g id="ytick_55">
     <g id="line2d_142">
      <g>
       <use href="#mc3d89a154a" x="318.0672" y="256.041454" style="stroke: #000000; stroke-width: 0.6"/>
      </g>
     </g>
    </g>
    <g id="ytick_56">
     <g id="line2d_143">
      <g>
       <use href="#mc3d89a154a" x="318.0672" y="234.979524" style="stroke: #000000; stroke-width: 0.6"/>
      </g>
     </g>
    </g>
    <g id="ytick_57">
     <g id="line2d_144">
      <g>
       <use href="#mc3d89a154a" x="318.0672" y="224.284727" style="stroke: #000000; stroke-width: 0.6"/>
      </g>
     </g>
    </g>
    <g id="ytick_58">
     <g id="line2d_145">
      <g>
       <use href="#mc3d89a154a" x="318.0672" y="216.696648" style="stroke: #000000; stroke-width: 0.6"/>
      </g>
     </g>
    </g>
    <g id="ytick_59">
     <g id="line2d_146">
      <g>
       <use href="#mc3d89a154a" x="318.0672" y="210.810876" style="stroke: #000000; stroke-width: 0.6"/>
      </g>
     </g>
    </g>
    <g id="ytick_60">
     <g id="line2d_147">
      <g>
       <use href="#mc3d89a154a" x="318.0672" y="206.001851" style="stroke: #000000; stroke-width: 0.6"/>
      </g>
     </g>
    </g>
    <g id="ytick_61">
     <g id="line2d_148">
      <g>
       <use href="#mc3d89a154a" x="318.0672" y="201.935878" style="stroke: #000000; stroke-width: 0.6"/>
      </g>
     </g>
    </g>
    <g id="ytick_62">
     <g id="line2d_149">
      <g>
       <use href="#mc3d89a154a" x="318.0672" y="198.413771" style="stroke: #000000; stroke-width: 0.6"/>
      </g>
     </g>
    </g>
    <g id="ytick_63">
     <g id="line2d_150">
      <g>
       <use href="#mc3d89a154a" x="318.0672" y="195.307054" style="stroke: #000000; stroke-width: 0.6"/>
      </g>
     </g>
    </g>
    <g id="ytick_64">
     <g id="line2d_151">
      <g>
       <use href="#mc3d89a154a" x="318.0672" y="174.245124" style="stroke: #000000; stroke-width: 0.6"/>
      </g>
     </g>
    </g>
    <g id="ytick_65">
     <g id="line2d_152">
      <g>
       <use href="#mc3d89a154a" x="318.0672" y="163.550327" style="stroke: #000000; stroke-width: 0.6"/>
      </g>
     </g>
    </g>
    <g id="ytick_66">
     <g id="line2d_153">
      <g>
       <use href="#mc3d89a154a" x="318.0672" y="155.962248" style="stroke: #000000; stroke-width: 0.6"/>
      </g>
     </g>
    </g>
    <g id="ytick_67">
     <g id="line2d_154">
      <g>
       <use href="#mc3d89a154a" x="318.0672" y="150.076476" style="stroke: #000000; stroke-width: 0.6"/>
      </g>
     </g>
    </g>
    <g id="ytick_68">
     <g id="line2d_155">
      <g>
       <use href="#mc3d89a154a" x="318.0672" y="145.267451" style="stroke: #000000; stroke-width: 0.6"/>
      </g>
     </g>
    </g>
    <g id="ytick_69">
     <g id="line2d_156">
      <g>
       <use href="#mc3d89a154a" x="318.0672" y="141.201478" style="stroke: #000000; stroke-width: 0.6"/>
      </g>
     </g>
    </g>
    <g id="ytick_70">
     <g id="line2d_157">
      <g>
       <use href="#mc3d89a154a" x="318.0672" y="137.679371" style="stroke: #000000; stroke-width: 0.6"/>
      </g>
     </g>
    </g>
    <g id="ytick_71">
     <g id="line2d_158">
      <g>
       <use href="#mc3d89a154a" x="318.0672" y="134.572654" style="stroke: #000000; stroke-width: 0.6"/>
      </g>
     </g>
    </g>
    <g id="ytick_72">
     <g id="line2d_159">
      <g>
       <use href="#mc3d89a154a" x="318.0672" y="113.510724" style="stroke: #000000; stroke-width: 0.6"/>
      </g>
     </g>
    </g>
    <g id="ytick_73">
     <g id="line2d_160">
      <g>
       <use href="#mc3d89a154a" x="318.0672" y="102.815927" style="stroke: #000000; stroke-width: 0.6"/>
      </g>
     </g>
    </g>
    <g id="ytick_74">
     <g id="line2d_161">
      <g>
       <use href="#mc3d89a154a" x="318.0672" y="95.227848" style="stroke: #000000; stroke-width: 0.6"/>
      </g>
     </g>
    </g>
    <g id="ytick_75">
     <g id="line2d_162">
      <g>
       <use href="#mc3d89a154a" x="318.0672" y="89.342076" style="stroke: #000000; stroke-width: 0.6"/>
      </g>
     </g>
    </g>
    <g id="ytick_76">
     <g id="line2d_163">
      <g>
       <use href="#mc3d89a154a" x="318.0672" y="84.533051" style="stroke: #000000; stroke-width: 0.6"/>
      </g>
     </g>
    </g>
    <g id="ytick_77">
     <g id="line2d_164">
      <g>
       <use href="#mc3d89a154a" x="318.0672" y="80.467078" style="stroke: #000000; stroke-width: 0.6"/>
      </g>
     </g>
    </g>
    <g id="ytick_78">
     <g id="line2d_165">
      <g>
       <use href="#mc3d89a154a" x="318.0672" y="76.944971" style="stroke: #000000; stroke-width: 0.6"/>
      </g>
     </g>
    </g>
    <g id="ytick_79">
     <g id="line2d_166">
      <g>
       <use href="#mc3d89a154a" x="318.0672" y="73.838254" style="stroke: #000000; stroke-width: 0.6"/>
      </g>
     </g>
    </g>
    <g id="ytick_80">
     <g id="line2d_167">
      <g>
       <use href="#mc3d89a154a" x="318.0672" y="52.776324" style="stroke: #000000; stroke-width: 0.6"/>
      </g>
     </g>
    </g>
    <g id="ytick_81">
     <g id="line2d_168">
      <g>
       <use href="#mc3d89a154a" x="318.0672" y="42.081527" style="stroke: #000000; stroke-width: 0.6"/>
      </g>
     </g>
    </g>
    <g id="ytick_82">
     <g id="line2d_169">
      <g>
       <use href="#mc3d89a154a" x="318.0672" y="34.493448" style="stroke: #000000; stroke-width: 0.6"/>
      </g>
     </g>
    </g>
    <g id="ytick_83">
     <g id="line2d_170">
      <g>
       <use href="#mc3d89a154a" x="318.0672" y="28.607676" style="stroke: #000000; stroke-width: 0.6"/>
      </g>
     </g>
    </g>
    <g id="ytick_84">
     <g id="line2d_171">
      <g>
       <use href="#mc3d89a154a" x="318.0672" y="23.798651" style="stroke: #000000; stroke-width: 0.6"/>
      </g>
     </g>
    </g>
    <g id="yl1" transform="translate(271.6043 168.7849) scale(1.00000 1.02000) translate(-272.4875 -168.7849)">
     <!-- BCS rate ($\Lambda$, s$^{-1}$) -->
     <g transform="translate(281.487512 210.7256) rotate(-90) scale(0.1 -0.1)">
      <use href="#DejaVuSans-42" transform="translate(0 0.684375)"/>
      <use href="#DejaVuSans-43" transform="translate(68.603516 0.684375)"/>
      <use href="#DejaVuSans-53" transform="translate(138.427734 0.684375)"/>
      <use href="#DejaVuSans-20" transform="translate(201.904297 0.684375)"/>
      <use href="#DejaVuSans-72" transform="translate(233.691406 0.684375)"/>
      <use href="#DejaVuSans-61" transform="translate(274.804688 0.684375)"/>
      <use href="#DejaVuSans-74" transform="translate(336.083984 0.684375)"/>
      <use href="#DejaVuSans-65" transform="translate(375.292969 0.684375)"/>
      <use href="#DejaVuSans-20" transform="translate(436.816406 0.684375)"/>
      <use href="#DejaVuSans-28" transform="translate(468.603516 0.684375)"/>
      <use href="#DejaVuSans-39b" transform="translate(507.617188 0.684375)"/>
      <use href="#DejaVuSans-2c" transform="translate(576.025391 0.684375)"/>
      <use href="#DejaVuSans-20" transform="translate(607.8125 0.684375)"/>
      <use href="#DejaVuSans-73" transform="translate(639.599609 0.684375)"/>
      <use href="#DejaVuSans-2212" transform="translate(692.65625 38.965625) scale(0.7)"/>
      <use href="#DejaVuSans-31" transform="translate(751.308594 38.965625) scale(0.7)"/>
      <use href="#DejaVuSans-29" transform="translate(798.579102 0.684375)"/>
     </g>
    </g>
   </g>
   <g id="line2d_172">
    <path d="M 317.857852 113.498139 
L 338.210619 149.501228 
L 352.358274 174.278829 
L 362.038249 190.800331 
L 370.228997 204.361774 
L 377.675131 216.266807 
L 384.376652 226.571194 
L 390.581764 235.715623 
L 396.290467 243.752628 
L 401.750966 251.071623 
L 406.96326 257.697474 
L 411.679145 263.347745 
L 415.402212 267.489479 
L 418.877075 271.025866 
L 421.855529 273.745613 
L 424.337574 275.735713 
L 426.571414 277.270678 
L 428.805254 278.527642 
L 430.79089 279.383998 
L 432.528321 279.912202 
L 434.265753 280.217232 
L 436.003184 280.283049 
L 437.740615 280.094513 
L 439.478047 279.645634 
L 441.215478 278.935746 
L 442.95291 277.964244 
L 444.690341 276.730528 
L 446.427772 275.233993 
L 448.413408 273.201078 
L 450.399044 270.823204 
L 452.38468 268.099473 
L 454.61852 264.620747 
L 456.85236 260.701877 
L 459.086201 256.341582 
L 461.568246 250.977531 
L 463.553881 246.2976 
L 465.306746 215.925984 
L 465.63461 204.919712 
L 466.885002 144.225937 
L 467.114375 131.881545 
L 467.47335 124.695583 
L 468.52493 109.817238 
L 468.934939 107.033381 
L 469.459015 104.996629 
L 470.186261 103.111661 
L 471.321036 100.863723 
L 473.464554 97.214352 
L 474.988715 94.995983 
L 476.176228 93.634606 
L 477.291211 92.671835 
L 478.502388 91.934715 
L 479.803035 91.41791 
L 481.185169 91.112125 
L 482.640808 91.008066 
L 484.419455 91.125329 
L 486.262437 91.464147 
L 488.685607 92.158418 
L 491.38791 93.171268 
L 500.095914 96.646695 
L 502.174091 97.13482 
L 504.21539 97.387597 
L 505.952723 97.392331 
L 507.627964 97.174237 
L 509.002651 96.795454 
L 510.310549 96.227234 
L 511.541936 95.45788 
L 512.687383 94.476468 
L 513.924522 93.10641 
L 517.447236 88.937736 
L 518.859811 87.828658 
L 521.354056 85.996229 
L 521.476875 85.8731 
L 521.476875 85.8731 
" clip-path="url(#p11d7e341cf)" style="fill: none; stroke: #ffa500; stroke-width: 3; stroke-linecap: square"/>
   </g>
   <g id="line2d_173">
    <path d="M 317.84708 107.04365 
L 327.986659 122.63102 
L 333.180102 131.032063 
L 338.373545 139.886403 
L 356.179636 170.669978 
L 361.125772 178.501 
L 366.071908 185.92072 
L 371.018045 192.950266 
L 375.964181 199.610769 
L 381.157624 206.230234 
L 386.351067 212.490586 
L 391.791817 218.69053 
L 397.232567 224.548979 
L 401.189476 228.530509 
L 404.404465 231.473473 
L 407.12484 233.68766 
L 409.597908 235.440458 
L 412.070976 236.940492 
L 414.544044 238.190317 
L 417.017112 239.192486 
L 419.49018 239.949505 
L 421.963249 240.461598 
L 424.436317 240.725767 
L 426.662078 240.748865 
L 428.887839 240.566158 
L 431.113601 240.175282 
L 433.339362 239.573875 
L 435.565123 238.759575 
L 438.038192 237.602238 
L 440.51126 236.181436 
L 443.231635 234.336447 
L 445.95201 232.223631 
L 448.919691 229.646868 
L 452.381987 226.330282 
L 456.338896 222.202777 
L 461.037725 216.950917 
L 463.01618 214.656 
L 464.326314 207.838539 
L 464.959057 203.272387 
L 465.363135 198.739 
L 465.663732 192.689199 
L 465.866968 183.5884 
L 466.738168 124.78058 
L 467.114568 118.958609 
L 467.673612 113.507418 
L 468.381406 108.762189 
L 469.137464 105.174129 
L 469.975273 102.264594 
L 470.983488 99.611292 
L 472.193098 97.110262 
L 473.481776 94.947527 
L 474.788462 93.175893 
L 476.06014 91.809563 
L 477.253433 90.822279 
L 478.521141 90.054742 
L 479.866929 89.509306 
L 481.294787 89.186732 
L 482.808691 89.087765 
L 484.405164 89.205658 
L 486.300258 89.571047 
L 488.47394 90.221874 
L 490.873511 91.16687 
L 494.34258 92.814914 
L 497.970594 94.47605 
L 500.038835 95.185042 
L 502.128438 95.65018 
L 503.968268 95.837078 
L 505.757881 95.792237 
L 507.257565 95.54921 
L 508.682012 95.110514 
L 510.02789 94.478113 
L 511.292283 93.654284 
L 512.472289 92.641337 
L 513.721427 91.271479 
L 515.169576 89.336943 
L 519.939499 82.238591 
L 521.440599 79.948948 
L 521.440599 79.948948 
" clip-path="url(#p11d7e341cf)" style="fill: none; stroke: #ff0000; stroke-width: 3; stroke-linecap: square"/>
   </g>
   <g id="line2d_174">
    <path d="M 317.84708 106.72112 
L 321.803989 112.648289 
L 326.502818 120.107096 
L 332.438182 129.978098 
L 350.738886 160.743969 
L 355.437715 168.03488 
L 359.394624 173.77831 
L 362.85692 178.437937 
L 366.071908 182.40861 
L 369.03959 185.73043 
L 371.759965 188.455429 
L 374.233033 190.643964 
L 376.706102 192.536826 
L 378.931863 193.971055 
L 381.157624 195.13498 
L 383.136079 195.93086 
L 385.114533 196.492701 
L 387.092988 196.835036 
L 389.318749 197.00109 
L 392.039124 196.96005 
L 395.501419 196.656829 
L 403.167931 195.88562 
L 405.888306 195.877172 
L 408.114067 196.07851 
L 410.339828 196.496967 
L 412.56559 197.133539 
L 414.791351 197.988 
L 417.264419 199.192676 
L 419.737487 200.665764 
L 422.210555 202.406954 
L 424.683624 204.415937 
L 427.403999 206.934751 
L 430.124374 209.776808 
L 433.339362 213.491862 
L 438.780112 219.811812 
L 441.25318 222.313086 
L 443.231635 223.992915 
L 444.962782 225.158359 
L 446.446623 225.888546 
L 447.930464 226.349175 
L 449.166998 226.519475 
L 450.403532 226.489194 
L 451.640066 226.252296 
L 452.8766 225.802743 
L 454.113135 225.135742 
L 455.596975 224.055619 
L 457.080816 222.685817 
L 458.811964 220.743499 
L 460.543112 218.455315 
L 462.521566 215.450185 
L 463.073061 214.382212 
L 464.326314 207.838539 
L 464.959057 203.272387 
L 465.363135 198.739 
L 465.663732 192.689199 
L 465.866968 183.5884 
L 466.738168 124.78058 
L 467.114568 118.958609 
L 467.673612 113.507418 
L 468.381406 108.762189 
L 469.137464 105.174129 
L 469.975273 102.264594 
L 470.983488 99.611292 
L 472.193098 97.110262 
L 473.481776 94.947527 
L 474.788462 93.175893 
L 476.06014 91.809563 
L 477.253433 90.822279 
L 478.521141 90.054742 
L 479.866929 89.509306 
L 481.294787 89.186732 
L 482.808691 89.087765 
L 484.405164 89.205658 
L 486.300258 89.571047 
L 488.47394 90.221874 
L 490.873511 91.16687 
L 494.34258 92.814914 
L 497.970594 94.47605 
L 500.038835 95.185042 
L 502.128438 95.65018 
L 503.968268 95.837078 
L 505.757881 95.792237 
L 507.257565 95.54921 
L 508.682012 95.110514 
L 510.02789 94.478113 
L 511.292283 93.654284 
L 512.472289 92.641337 
L 513.721427 91.271479 
L 515.169576 89.336943 
L 519.939499 82.238591 
L 521.440599 79.948948 
L 521.440599 79.948948 
" clip-path="url(#p11d7e341cf)" style="fill: none; stroke: #000000; stroke-width: 3; stroke-linecap: square"/>
   </g>
   <g id="line2d_175">
    <path d="M 318.022701 114.173388 
L 322.374968 120.511717 
L 327.21082 127.964277 
L 332.530257 136.579246 
L 338.816864 147.199574 
L 347.037812 161.560029 
L 367.348389 197.241061 
L 373.634996 207.739714 
L 378.954433 216.217409 
L 383.790284 223.517875 
L 388.142551 229.697092 
L 392.253025 235.144737 
L 395.879914 239.603058 
L 399.506802 243.704841 
L 402.891899 247.189244 
L 406.035202 250.109535 
L 408.936713 252.521564 
L 411.838224 254.648382 
L 414.497943 256.33667 
L 417.157661 257.765037 
L 419.575587 258.829781 
L 421.993513 259.661944 
L 424.411439 260.248877 
L 426.587572 260.556833 
L 428.763705 260.646394 
L 430.939838 260.5082 
L 433.115972 260.132893 
L 435.292105 259.511112 
L 437.468238 258.633499 
L 439.644371 257.490695 
L 441.820505 256.074095 
L 443.996638 254.389022 
L 446.414564 252.223221 
L 449.074282 249.512488 
L 451.975793 246.200444 
L 455.119097 242.242596 
L 458.504193 237.610783 
L 459.713156 235.8912 
L 461.685987 209.550017 
L 462.38471 197.244198 
L 463.767243 169.595382 
L 464.765898 157.418285 
L 466.085404 144.050727 
L 467.137491 135.311811 
L 468.11235 129.007102 
L 471.701684 108.626957 
L 473.268038 100.834792 
L 474.439037 96.102101 
L 475.502691 92.707436 
L 476.625121 89.898343 
L 477.79123 87.609235 
L 479.11306 85.510516 
L 480.764502 83.334636 
L 482.803363 81.04318 
L 485.500948 78.371905 
L 488.935095 75.310725 
L 493.385796 71.655249 
L 498.165733 67.992856 
L 502.082406 65.252062 
L 504.716264 63.645961 
L 507.074463 62.468893 
L 509.35025 61.57998 
L 511.49776 60.964879 
L 513.414415 60.633984 
L 515.246928 60.559814 
L 517.306932 60.731449 
L 520.252199 61.236642 
L 521.407736 61.514433 
L 521.407736 61.514433 
" clip-path="url(#p11d7e341cf)" style="fill: none; stroke: #0000ff; stroke-width: 3; stroke-linecap: square"/>
   </g>
   <g id="line2d_176">
    <g clip-path="url(#p11d7e341cf)">
     <use href="#m1ad704be25" x="317.875164" y="124.9152" style="fill: #32cd32; stroke: #32cd32; stroke-linejoin: miter"/>
     <use href="#m1ad704be25" x="324.042601" y="124.9152" style="fill: #32cd32; stroke: #32cd32; stroke-linejoin: miter"/>
     <use href="#m1ad704be25" x="330.210038" y="124.9152" style="fill: #32cd32; stroke: #32cd32; stroke-linejoin: miter"/>
     <use href="#m1ad704be25" x="336.377475" y="124.9152" style="fill: #32cd32; stroke: #32cd32; stroke-linejoin: miter"/>
     <use href="#m1ad704be25" x="342.544912" y="124.9152" style="fill: #32cd32; stroke: #32cd32; stroke-linejoin: miter"/>
     <use href="#m1ad704be25" x="348.712349" y="124.9152" style="fill: #32cd32; stroke: #32cd32; stroke-linejoin: miter"/>
     <use href="#m1ad704be25" x="354.879786" y="124.9152" style="fill: #32cd32; stroke: #32cd32; stroke-linejoin: miter"/>
     <use href="#m1ad704be25" x="361.047223" y="124.9152" style="fill: #32cd32; stroke: #32cd32; stroke-linejoin: miter"/>
     <use href="#m1ad704be25" x="367.21466" y="138.8928" style="fill: #32cd32; stroke: #32cd32; stroke-linejoin: miter"/>
     <use href="#m1ad704be25" x="373.382097" y="150.6432" style="fill: #32cd32; stroke: #32cd32; stroke-linejoin: miter"/>
     <use href="#m1ad704be25" x="379.549534" y="160.7808" style="fill: #32cd32; stroke: #32cd32; stroke-linejoin: miter"/>
     <use href="#m1ad704be25" x="385.716971" y="169.0752" style="fill: #32cd32; stroke: #32cd32; stroke-linejoin: miter"/>
     <use href="#m1ad704be25" x="391.884408" y="175.3728" style="fill: #32cd32; stroke: #32cd32; stroke-linejoin: miter"/>
     <use href="#m1ad704be25" x="398.051845" y="179.712" style="fill: #32cd32; stroke: #32cd32; stroke-linejoin: miter"/>
     <use href="#m1ad704be25" x="404.219282" y="182.3232" style="fill: #32cd32; stroke: #32cd32; stroke-linejoin: miter"/>
     <use href="#m1ad704be25" x="410.386719" y="183.5904" style="fill: #32cd32; stroke: #32cd32; stroke-linejoin: miter"/>
     <use href="#m1ad704be25" x="416.554156" y="183.3984" style="fill: #32cd32; stroke: #32cd32; stroke-linejoin: miter"/>
     <use href="#m1ad704be25" x="422.721592" y="181.9776" style="fill: #32cd32; stroke: #32cd32; stroke-linejoin: miter"/>
     <use href="#m1ad704be25" x="428.889029" y="179.2512" style="fill: #32cd32; stroke: #32cd32; stroke-linejoin: miter"/>
     <use href="#m1ad704be25" x="435.056466" y="175.5264" style="fill: #32cd32; stroke: #32cd32; stroke-linejoin: miter"/>
     <use href="#m1ad704be25" x="441.223903" y="170.9952" style="fill: #32cd32; stroke: #32cd32; stroke-linejoin: miter"/>
     <use href="#m1ad704be25" x="447.39134" y="166.08" style="fill: #32cd32; stroke: #32cd32; stroke-linejoin: miter"/>
     <use href="#m1ad704be25" x="453.558777" y="160.2048" style="fill: #32cd32; stroke: #32cd32; stroke-linejoin: miter"/>
     <use href="#m1ad704be25" x="459.726214" y="154.176" style="fill: #32cd32; stroke: #32cd32; stroke-linejoin: miter"/>
     <use href="#m1ad704be25" x="465.893651" y="147.1488" style="fill: #32cd32; stroke: #32cd32; stroke-linejoin: miter"/>
     <use href="#m1ad704be25" x="472.061088" y="139.0848" style="fill: #32cd32; stroke: #32cd32; stroke-linejoin: miter"/>
     <use href="#m1ad704be25" x="478.228525" y="129.2544" style="fill: #32cd32; stroke: #32cd32; stroke-linejoin: miter"/>
     <use href="#m1ad704be25" x="484.395962" y="116.0448" style="fill: #32cd32; stroke: #32cd32; stroke-linejoin: miter"/>
     <use href="#m1ad704be25" x="490.563399" y="97.4976" style="fill: #32cd32; stroke: #32cd32; stroke-linejoin: miter"/>
     <use href="#m1ad704be25" x="496.730836" y="95.6544" style="fill: #32cd32; stroke: #32cd32; stroke-linejoin: miter"/>
     <use href="#m1ad704be25" x="502.898273" y="95.6544" style="fill: #32cd32; stroke: #32cd32; stroke-linejoin: miter"/>
     <use href="#m1ad704be25" x="509.06571" y="95.6544" style="fill: #32cd32; stroke: #32cd32; stroke-linejoin: miter"/>
     <use href="#m1ad704be25" x="515.233147" y="95.6544" style="fill: #32cd32; stroke: #32cd32; stroke-linejoin: miter"/>
     <use href="#m1ad704be25" x="521.400584" y="95.6544" style="fill: #32cd32; stroke: #32cd32; stroke-linejoin: miter"/>
    </g>
   </g>
   <g id="patch_8">
    <path d="M 318.0672 313.9968 
L 318.0672 23.6544 
" style="fill: none; stroke: #000000; stroke-width: 0.8; stroke-linejoin: miter; stroke-linecap: square"/>
   </g>
   <g id="patch_9">
    <path d="M 521.3568 313.9968 
L 521.3568 23.6544 
" style="fill: none; stroke: #000000; stroke-width: 0.8; stroke-linejoin: miter; stroke-linecap: square"/>
   </g>
   <g id="patch_10">
    <path d="M 318.0672 313.9968 
L 521.3568 313.9968 
" style="fill: none; stroke: #000000; stroke-width: 0.8; stroke-linejoin: miter; stroke-linecap: square"/>
   </g>
   <g id="patch_11">
    <path d="M 318.0672 23.6544 
L 521.3568 23.6544 
" style="fill: none; stroke: #000000; stroke-width: 0.8; stroke-linejoin: miter; stroke-linecap: square"/>
   </g>
   <g id="ttl1" transform="translate(338.4761 6.8544) scale(1.01600 1.00000) translate(-338.7833 -6.8544)">
    <!-- (b) Rain rate = 2.5 mm h$^{-1}$ -->
    <g transform="translate(337.752 17.6544) scale(0.12 -0.12)">
     <defs>
      <path id="DejaVuSans-62" d="M 3116 1747 
Q 3116 2381 2855 2742 
Q 2594 3103 2138 3103 
Q 1681 3103 1420 2742 
Q 1159 2381 1159 1747 
Q 1159 1113 1420 752 
Q 1681 391 2138 391 
Q 2594 391 2855 752 
Q 3116 1113 3116 1747 
z
M 1159 2969 
Q 1341 3281 1617 3432 
Q 1894 3584 2278 3584 
Q 2916 3584 3314 3078 
Q 3713 2572 3713 1747 
Q 3713 922 3314 415 
Q 2916 -91 2278 -91 
Q 1894 -91 1617 61 
Q 1341 213 1159 525 
L 1159 0 
L 581 0 
L 581 4863 
L 1159 4863 
L 1159 2969 
z
" transform="scale(0.015625)"/>
      <path id="DejaVuSans-32" d="M 1228 531 
L 3431 531 
L 3431 0 
L 469 0 
L 469 531 
Q 828 903 1448 1529 
Q 2069 2156 2228 2338 
Q 2531 2678 2651 2914 
Q 2772 3150 2772 3378 
Q 2772 3750 2511 3984 
Q 2250 4219 1831 4219 
Q 1534 4219 1204 4116 
Q 875 4013 500 3803 
L 500 4441 
Q 881 4594 1212 4672 
Q 1544 4750 1819 4750 
Q 2544 4750 2975 4387 
Q 3406 4025 3406 3419 
Q 3406 3131 3298 2873 
Q 3191 2616 2906 2266 
Q 2828 2175 2409 1742 
Q 1991 1309 1228 531 
z
" transform="scale(0.015625)"/>
     </defs>
     <use href="#DejaVuSans-28" transform="translate(0 0.684375)"/>
     <use href="#DejaVuSans-62" transform="translate(39.013672 0.684375)"/>
     <use href="#DejaVuSans-29" transform="translate(102.490234 0.684375)"/>
     <use href="#DejaVuSans-20" transform="translate(141.503906 0.684375)"/>
     <use href="#DejaVuSans-52" transform="translate(173.291016 0.684375)"/>
     <use href="#DejaVuSans-61" transform="translate(242.773438 0.684375)"/>
     <use href="#DejaVuSans-69" transform="translate(304.052734 0.684375)"/>
     <use href="#DejaVuSans-6e" transform="translate(331.835938 0.684375)"/>
     <use href="#DejaVuSans-20" transform="translate(395.214844 0.684375)"/>
     <use href="#DejaVuSans-72" transform="translate(427.001953 0.684375)"/>
     <use href="#DejaVuSans-61" transform="translate(468.115234 0.684375)"/>
     <use href="#DejaVuSans-74" transform="translate(529.394531 0.684375)"/>
     <use href="#DejaVuSans-65" transform="translate(568.603516 0.684375)"/>
     <use href="#DejaVuSans-20" transform="translate(630.126953 0.684375)"/>
     <use href="#DejaVuSans-3d" transform="translate(661.914062 0.684375)"/>
     <use href="#DejaVuSans-20" transform="translate(745.703125 0.684375)"/>
     <use href="#DejaVuSans-32" transform="translate(777.490234 0.684375)"/>
     <use href="#DejaVuSans-2e" transform="translate(841.113281 0.684375)"/>
     <use href="#DejaVuSans-35" transform="translate(872.900391 0.684375)"/>
     <use href="#DejaVuSans-20" transform="translate(936.523438 0.684375)"/>
     <use href="#DejaVuSans-6d" transform="translate(968.310547 0.684375)"/>
     <use href="#DejaVuSans-6d" transform="translate(1065.722656 0.684375)"/>
     <use href="#DejaVuSans-20" transform="translate(1163.134766 0.684375)"/>
     <use href="#DejaVuSans-68" transform="translate(1194.921875 0.684375)"/>
     <use href="#DejaVuSans-2212" transform="translate(1259.257812 38.965625) scale(0.7)"/>
     <use href="#DejaVuSans-31" transform="translate(1317.910156 38.965625) scale(0.7)"/>
    </g>
   </g>
  </g>
  <g id="axes_3">
   <g id="patch_12">
    <path d="M 583.1424 313.9968 
L 786.3936 313.9968 
L 786.3936 23.6544 
L 583.1424 23.6544 
z
" style="fill: #ffffff"/>
   </g>
   <g id="matplotlib.axis_5">
    <g id="xtick_83">
     <g id="line2d_177">
      <g>
       <use href="#m1504cfccaf" x="583.1424" y="313.9968" style="stroke: #000000; stroke-width: 0.8"/>
      </g>
     </g>
     <g id="xt2_0">
      <!-- 0.001 -->
      <g transform="translate(568.828337 328.595237) scale(0.1 -0.1)">
       <use href="#DejaVuSans-30"/>
       <use href="#DejaVuSans-2e" transform="translate(63.623047 0)"/>
       <use href="#DejaVuSans-30" transform="translate(95.410156 0)"/>
       <use href="#DejaVuSans-30" transform="translate(159.033203 0)"/>
       <use href="#DejaVuSans-31" transform="translate(222.65625 0)"/>
      </g>
     </g>
    </g>
    <g id="xtick_84">
     <g id="line2d_178">
      <g>
       <use href="#m1504cfccaf" x="626.396815" y="313.9968" style="stroke: #000000; stroke-width: 0.8"/>
      </g>
     </g>
     <g id="xt2_1">
      <!-- 0.01 -->
      <g transform="translate(615.264003 328.595237) scale(0.1 -0.1)">
       <use href="#DejaVuSans-30"/>
       <use href="#DejaVuSans-2e" transform="translate(63.623047 0)"/>
       <use href="#DejaVuSans-30" transform="translate(95.410156 0)"/>
       <use href="#DejaVuSans-31" transform="translate(159.033203 0)"/>
      </g>
     </g>
    </g>
    <g id="xtick_85">
     <g id="line2d_179">
      <g>
       <use href="#m1504cfccaf" x="669.651231" y="313.9968" style="stroke: #000000; stroke-width: 0.8"/>
      </g>
     </g>
     <g id="xt2_2">
      <!-- 0.1 -->
      <g transform="translate(661.699668 328.595237) scale(0.1 -0.1)">
       <use href="#DejaVuSans-30"/>
       <use href="#DejaVuSans-2e" transform="translate(63.623047 0)"/>
       <use href="#DejaVuSans-31" transform="translate(95.410156 0)"/>
      </g>
     </g>
    </g>
    <g id="xtick_86">
     <g id="line2d_180">
      <g>
       <use href="#m1504cfccaf" x="712.905646" y="313.9968" style="stroke: #000000; stroke-width: 0.8"/>
      </g>
     </g>
     <g id="xt2_3">
      <!-- 1 -->
      <g transform="translate(709.724396 328.595237) scale(0.1 -0.1)">
       <use href="#DejaVuSans-31"/>
      </g>
     </g>
    </g>
    <g id="xtick_87">
     <g id="line2d_181">
      <g>
       <use href="#m1504cfccaf" x="756.160061" y="313.9968" style="stroke: #000000; stroke-width: 0.8"/>
      </g>
     </g>
     <g id="xt2_4">
      <!-- 10 -->
      <g transform="translate(749.797561 328.595237) scale(0.1 -0.1)">
       <use href="#DejaVuSans-31"/>
       <use href="#DejaVuSans-30" transform="translate(63.623047 0)"/>
      </g>
     </g>
    </g>
    <g id="xtick_88">
     <g id="line2d_182">
      <g>
       <use href="#m05db3bdf9b" x="596.163276" y="313.9968" style="stroke: #000000; stroke-width: 0.6"/>
      </g>
     </g>
    </g>
    <g id="xtick_89">
     <g id="line2d_183">
      <g>
       <use href="#m05db3bdf9b" x="603.780001" y="313.9968" style="stroke: #000000; stroke-width: 0.6"/>
      </g>
     </g>
    </g>
    <g id="xtick_90">
     <g id="line2d_184">
      <g>
       <use href="#m05db3bdf9b" x="609.184153" y="313.9968" style="stroke: #000000; stroke-width: 0.6"/>
      </g>
     </g>
    </g>
    <g id="xtick_91">
     <g id="line2d_185">
      <g>
       <use href="#m05db3bdf9b" x="613.375939" y="313.9968" style="stroke: #000000; stroke-width: 0.6"/>
      </g>
     </g>
    </g>
    <g id="xtick_92">
     <g id="line2d_186">
      <g>
       <use href="#m05db3bdf9b" x="616.800877" y="313.9968" style="stroke: #000000; stroke-width: 0.6"/>
      </g>
     </g>
    </g>
    <g id="xtick_93">
     <g id="line2d_187">
      <g>
       <use href="#m05db3bdf9b" x="619.696622" y="313.9968" style="stroke: #000000; stroke-width: 0.6"/>
      </g>
     </g>
    </g>
    <g id="xtick_94">
     <g id="line2d_188">
      <g>
       <use href="#m05db3bdf9b" x="622.205029" y="313.9968" style="stroke: #000000; stroke-width: 0.6"/>
      </g>
     </g>
    </g>
    <g id="xtick_95">
     <g id="line2d_189">
      <g>
       <use href="#m05db3bdf9b" x="624.417602" y="313.9968" style="stroke: #000000; stroke-width: 0.6"/>
      </g>
     </g>
    </g>
    <g id="xtick_96">
     <g id="line2d_190">
      <g>
       <use href="#m05db3bdf9b" x="639.417692" y="313.9968" style="stroke: #000000; stroke-width: 0.6"/>
      </g>
     </g>
    </g>
    <g id="xtick_97">
     <g id="line2d_191">
      <g>
       <use href="#m05db3bdf9b" x="647.034416" y="313.9968" style="stroke: #000000; stroke-width: 0.6"/>
      </g>
     </g>
    </g>
    <g id="xtick_98">
     <g id="line2d_192">
      <g>
       <use href="#m05db3bdf9b" x="652.438568" y="313.9968" style="stroke: #000000; stroke-width: 0.6"/>
      </g>
     </g>
    </g>
    <g id="xtick_99">
     <g id="line2d_193">
      <g>
       <use href="#m05db3bdf9b" x="656.630354" y="313.9968" style="stroke: #000000; stroke-width: 0.6"/>
      </g>
     </g>
    </g>
    <g id="xtick_100">
     <g id="line2d_194">
      <g>
       <use href="#m05db3bdf9b" x="660.055293" y="313.9968" style="stroke: #000000; stroke-width: 0.6"/>
      </g>
     </g>
    </g>
    <g id="xtick_101">
     <g id="line2d_195">
      <g>
       <use href="#m05db3bdf9b" x="662.951037" y="313.9968" style="stroke: #000000; stroke-width: 0.6"/>
      </g>
     </g>
    </g>
    <g id="xtick_102">
     <g id="line2d_196">
      <g>
       <use href="#m05db3bdf9b" x="665.459445" y="313.9968" style="stroke: #000000; stroke-width: 0.6"/>
      </g>
     </g>
    </g>
    <g id="xtick_103">
     <g id="line2d_197">
      <g>
       <use href="#m05db3bdf9b" x="667.672017" y="313.9968" style="stroke: #000000; stroke-width: 0.6"/>
      </g>
     </g>
    </g>
    <g id="xtick_104">
     <g id="line2d_198">
      <g>
       <use href="#m05db3bdf9b" x="682.672107" y="313.9968" style="stroke: #000000; stroke-width: 0.6"/>
      </g>
     </g>
    </g>
    <g id="xtick_105">
     <g id="line2d_199">
      <g>
       <use href="#m05db3bdf9b" x="690.288831" y="313.9968" style="stroke: #000000; stroke-width: 0.6"/>
      </g>
     </g>
    </g>
    <g id="xtick_106">
     <g id="line2d_200">
      <g>
       <use href="#m05db3bdf9b" x="695.692983" y="313.9968" style="stroke: #000000; stroke-width: 0.6"/>
      </g>
     </g>
    </g>
    <g id="xtick_107">
     <g id="line2d_201">
      <g>
       <use href="#m05db3bdf9b" x="699.884769" y="313.9968" style="stroke: #000000; stroke-width: 0.6"/>
      </g>
     </g>
    </g>
    <g id="xtick_108">
     <g id="line2d_202">
      <g>
       <use href="#m05db3bdf9b" x="703.309708" y="313.9968" style="stroke: #000000; stroke-width: 0.6"/>
      </g>
     </g>
    </g>
    <g id="xtick_109">
     <g id="line2d_203">
      <g>
       <use href="#m05db3bdf9b" x="706.205452" y="313.9968" style="stroke: #000000; stroke-width: 0.6"/>
      </g>
     </g>
    </g>
    <g id="xtick_110">
     <g id="line2d_204">
      <g>
       <use href="#m05db3bdf9b" x="708.71386" y="313.9968" style="stroke: #000000; stroke-width: 0.6"/>
      </g>
     </g>
    </g>
    <g id="xtick_111">
     <g id="line2d_205">
      <g>
       <use href="#m05db3bdf9b" x="710.926432" y="313.9968" style="stroke: #000000; stroke-width: 0.6"/>
      </g>
     </g>
    </g>
    <g id="xtick_112">
     <g id="line2d_206">
      <g>
       <use href="#m05db3bdf9b" x="725.926522" y="313.9968" style="stroke: #000000; stroke-width: 0.6"/>
      </g>
     </g>
    </g>
    <g id="xtick_113">
     <g id="line2d_207">
      <g>
       <use href="#m05db3bdf9b" x="733.543247" y="313.9968" style="stroke: #000000; stroke-width: 0.6"/>
      </g>
     </g>
    </g>
    <g id="xtick_114">
     <g id="line2d_208">
      <g>
       <use href="#m05db3bdf9b" x="738.947399" y="313.9968" style="stroke: #000000; stroke-width: 0.6"/>
      </g>
     </g>
    </g>
    <g id="xtick_115">
     <g id="line2d_209">
      <g>
       <use href="#m05db3bdf9b" x="743.139185" y="313.9968" style="stroke: #000000; stroke-width: 0.6"/>
      </g>
     </g>
    </g>
    <g id="xtick_116">
     <g id="line2d_210">
      <g>
       <use href="#m05db3bdf9b" x="746.564123" y="313.9968" style="stroke: #000000; stroke-width: 0.6"/>
      </g>
     </g>
    </g>
    <g id="xtick_117">
     <g id="line2d_211">
      <g>
       <use href="#m05db3bdf9b" x="749.459867" y="313.9968" style="stroke: #000000; stroke-width: 0.6"/>
      </g>
     </g>
    </g>
    <g id="xtick_118">
     <g id="line2d_212">
      <g>
       <use href="#m05db3bdf9b" x="751.968275" y="313.9968" style="stroke: #000000; stroke-width: 0.6"/>
      </g>
     </g>
    </g>
    <g id="xtick_119">
     <g id="line2d_213">
      <g>
       <use href="#m05db3bdf9b" x="754.180848" y="313.9968" style="stroke: #000000; stroke-width: 0.6"/>
      </g>
     </g>
    </g>
    <g id="xtick_120">
     <g id="line2d_214">
      <g>
       <use href="#m05db3bdf9b" x="769.180938" y="313.9968" style="stroke: #000000; stroke-width: 0.6"/>
      </g>
     </g>
    </g>
    <g id="xtick_121">
     <g id="line2d_215">
      <g>
       <use href="#m05db3bdf9b" x="776.797662" y="313.9968" style="stroke: #000000; stroke-width: 0.6"/>
      </g>
     </g>
    </g>
    <g id="xtick_122">
     <g id="line2d_216">
      <g>
       <use href="#m05db3bdf9b" x="782.201814" y="313.9968" style="stroke: #000000; stroke-width: 0.6"/>
      </g>
     </g>
    </g>
    <g id="xtick_123">
     <g id="line2d_217">
      <g>
       <use href="#m05db3bdf9b" x="786.3936" y="313.9968" style="stroke: #000000; stroke-width: 0.6"/>
      </g>
     </g>
    </g>
    <g id="xl2" transform="translate(619.8733 335.0589) scale(1.02000 1.00000) translate(-620.4493 -334.6749)">
     <!-- Particle diameter (d$_p$, $\mu$m) -->
     <g transform="translate(619.468 342.274925) scale(0.1 -0.1)">
      <use href="#DejaVuSans-50" transform="translate(0 0.015625)"/>
      <use href="#DejaVuSans-61" transform="translate(60.302734 0.015625)"/>
      <use href="#DejaVuSans-72" transform="translate(121.582031 0.015625)"/>
      <use href="#DejaVuSans-74" transform="translate(162.695312 0.015625)"/>
      <use href="#DejaVuSans-69" transform="translate(201.904297 0.015625)"/>
      <use href="#DejaVuSans-63" transform="translate(229.6875 0.015625)"/>
      <use href="#DejaVuSans-6c" transform="translate(284.667969 0.015625)"/>
      <use href="#DejaVuSans-65" transform="translate(312.451172 0.015625)"/>
      <use href="#DejaVuSans-20" transform="translate(373.974609 0.015625)"/>
      <use href="#DejaVuSans-64" transform="translate(405.761719 0.015625)"/>
      <use href="#DejaVuSans-69" transform="translate(469.238281 0.015625)"/>
      <use href="#DejaVuSans-61" transform="translate(497.021484 0.015625)"/>
      <use href="#DejaVuSans-6d" transform="translate(558.300781 0.015625)"/>
      <use href="#DejaVuSans-65" transform="translate(655.712891 0.015625)"/>
      <use href="#DejaVuSans-74" transform="translate(717.236328 0.015625)"/>
      <use href="#DejaVuSans-65" transform="translate(756.445312 0.015625)"/>
      <use href="#DejaVuSans-72" transform="translate(817.96875 0.015625)"/>
      <use href="#DejaVuSans-20" transform="translate(859.082031 0.015625)"/>
      <use href="#DejaVuSans-28" transform="translate(890.869141 0.015625)"/>
      <use href="#DejaVuSans-64" transform="translate(929.882812 0.015625)"/>
      <use href="#DejaVuSans-Oblique-70" transform="translate(994.316406 -16.390625) scale(0.7)"/>
      <use href="#DejaVuSans-2c" transform="translate(1041.484375 0.015625)"/>
      <use href="#DejaVuSans-20" transform="translate(1073.271484 0.015625)"/>
      <use href="#DejaVuSans-Oblique-3bc" transform="translate(1105.058594 0.015625)"/>
      <use href="#DejaVuSans-6d" transform="translate(1168.681641 0.015625)"/>
      <use href="#DejaVuSans-29" transform="translate(1266.09375 0.015625)"/>
     </g>
    </g>
   </g>
   <g id="matplotlib.axis_6">
    <g id="ytick_85">
     <g id="line2d_218">
      <g>
       <use href="#m5d545ce8f8" x="583.1424" y="313.9968" style="stroke: #000000; stroke-width: 0.8"/>
      </g>
     </g>
     <g id="yt2_1" transform="translate(554.0480 308.7960) scale(1.00000 1.00000) translate(-553.7408 -308.7960)">
      <!-- $\mathdefault{10^{-7}}$ -->
      <g transform="translate(552.6424 317.796019) scale(0.1 -0.1)">
       <use href="#DejaVuSans-31" transform="translate(0 0.684375)"/>
       <use href="#DejaVuSans-30" transform="translate(63.623047 0.684375)"/>
       <use href="#DejaVuSans-2212" transform="translate(128.203125 38.965625) scale(0.7)"/>
       <use href="#DejaVuSans-37" transform="translate(186.855469 38.965625) scale(0.7)"/>
      </g>
     </g>
    </g>
    <g id="ytick_86">
     <g id="line2d_219">
      <g>
       <use href="#m5d545ce8f8" x="583.1424" y="253.2624" style="stroke: #000000; stroke-width: 0.8"/>
      </g>
     </g>
     <g id="yt2_2" transform="translate(554.0480 247.9616) scale(1.00000 1.00000) translate(-553.7408 -247.9616)">
      <!-- $\mathdefault{10^{-6}}$ -->
      <g transform="translate(552.6424 257.061619) scale(0.1 -0.1)">
       <use href="#DejaVuSans-31" transform="translate(0 0.765625)"/>
       <use href="#DejaVuSans-30" transform="translate(63.623047 0.765625)"/>
       <use href="#DejaVuSans-2212" transform="translate(128.203125 39.046875) scale(0.7)"/>
       <use href="#DejaVuSans-36" transform="translate(186.855469 39.046875) scale(0.7)"/>
      </g>
     </g>
    </g>
    <g id="ytick_87">
     <g id="line2d_220">
      <g>
       <use href="#m5d545ce8f8" x="583.1424" y="192.528" style="stroke: #000000; stroke-width: 0.8"/>
      </g>
     </g>
     <g id="yt2_3" transform="translate(554.0480 187.3272) scale(1.00000 1.00000) translate(-553.7408 -187.3272)">
      <!-- $\mathdefault{10^{-5}}$ -->
      <g transform="translate(552.6424 196.327219) scale(0.1 -0.1)">
       <use href="#DejaVuSans-31" transform="translate(0 0.684375)"/>
       <use href="#DejaVuSans-30" transform="translate(63.623047 0.684375)"/>
       <use href="#DejaVuSans-2212" transform="translate(128.203125 38.965625) scale(0.7)"/>
       <use href="#DejaVuSans-35" transform="translate(186.855469 38.965625) scale(0.7)"/>
      </g>
     </g>
    </g>
    <g id="ytick_88">
     <g id="line2d_221">
      <g>
       <use href="#m5d545ce8f8" x="583.1424" y="131.7936" style="stroke: #000000; stroke-width: 0.8"/>
      </g>
     </g>
     <g id="yt2_4" transform="translate(554.0480 126.5928) scale(1.00000 1.00000) translate(-553.7408 -126.5928)">
      <!-- $\mathdefault{10^{-4}}$ -->
      <g transform="translate(552.6424 135.592819) scale(0.1 -0.1)">
       <use href="#DejaVuSans-31" transform="translate(0 0.684375)"/>
       <use href="#DejaVuSans-30" transform="translate(63.623047 0.684375)"/>
       <use href="#DejaVuSans-2212" transform="translate(128.203125 38.965625) scale(0.7)"/>
       <use href="#DejaVuSans-34" transform="translate(186.855469 38.965625) scale(0.7)"/>
      </g>
     </g>
    </g>
    <g id="ytick_89">
     <g id="line2d_222">
      <g>
       <use href="#m5d545ce8f8" x="583.1424" y="71.0592" style="stroke: #000000; stroke-width: 0.8"/>
      </g>
     </g>
     <g id="yt2_5" transform="translate(554.0480 65.7584) scale(1.00000 1.00000) translate(-553.7408 -65.7584)">
      <!-- $\mathdefault{10^{-3}}$ -->
      <g transform="translate(552.6424 74.858419) scale(0.1 -0.1)">
       <use href="#DejaVuSans-31" transform="translate(0 0.765625)"/>
       <use href="#DejaVuSans-30" transform="translate(63.623047 0.765625)"/>
       <use href="#DejaVuSans-2212" transform="translate(128.203125 39.046875) scale(0.7)"/>
       <use href="#DejaVuSans-33" transform="translate(186.855469 39.046875) scale(0.7)"/>
      </g>
     </g>
    </g>
    <g id="ytick_90">
     <g id="line2d_223">
      <g>
       <use href="#mc3d89a154a" x="583.1424" y="295.713924" style="stroke: #000000; stroke-width: 0.6"/>
      </g>
     </g>
    </g>
    <g id="ytick_91">
     <g id="line2d_224">
      <g>
       <use href="#mc3d89a154a" x="583.1424" y="285.019127" style="stroke: #000000; stroke-width: 0.6"/>
      </g>
     </g>
    </g>
    <g id="ytick_92">
     <g id="line2d_225">
      <g>
       <use href="#mc3d89a154a" x="583.1424" y="277.431048" style="stroke: #000000; stroke-width: 0.6"/>
      </g>
     </g>
    </g>
    <g id="ytick_93">
     <g id="line2d_226">
      <g>
       <use href="#mc3d89a154a" x="583.1424" y="271.545276" style="stroke: #000000; stroke-width: 0.6"/>
      </g>
     </g>
    </g>
    <g id="ytick_94">
     <g id="line2d_227">
      <g>
       <use href="#mc3d89a154a" x="583.1424" y="266.736251" style="stroke: #000000; stroke-width: 0.6"/>
      </g>
     </g>
    </g>
    <g id="ytick_95">
     <g id="line2d_228">
      <g>
       <use href="#mc3d89a154a" x="583.1424" y="262.670278" style="stroke: #000000; stroke-width: 0.6"/>
      </g>
     </g>
    </g>
    <g id="ytick_96">
     <g id="line2d_229">
      <g>
       <use href="#mc3d89a154a" x="583.1424" y="259.148171" style="stroke: #000000; stroke-width: 0.6"/>
      </g>
     </g>
    </g>
    <g id="ytick_97">
     <g id="line2d_230">
      <g>
       <use href="#mc3d89a154a" x="583.1424" y="256.041454" style="stroke: #000000; stroke-width: 0.6"/>
      </g>
     </g>
    </g>
    <g id="ytick_98">
     <g id="line2d_231">
      <g>
       <use href="#mc3d89a154a" x="583.1424" y="234.979524" style="stroke: #000000; stroke-width: 0.6"/>
      </g>
     </g>
    </g>
    <g id="ytick_99">
     <g id="line2d_232">
      <g>
       <use href="#mc3d89a154a" x="583.1424" y="224.284727" style="stroke: #000000; stroke-width: 0.6"/>
      </g>
     </g>
    </g>
    <g id="ytick_100">
     <g id="line2d_233">
      <g>
       <use href="#mc3d89a154a" x="583.1424" y="216.696648" style="stroke: #000000; stroke-width: 0.6"/>
      </g>
     </g>
    </g>
    <g id="ytick_101">
     <g id="line2d_234">
      <g>
       <use href="#mc3d89a154a" x="583.1424" y="210.810876" style="stroke: #000000; stroke-width: 0.6"/>
      </g>
     </g>
    </g>
    <g id="ytick_102">
     <g id="line2d_235">
      <g>
       <use href="#mc3d89a154a" x="583.1424" y="206.001851" style="stroke: #000000; stroke-width: 0.6"/>
      </g>
     </g>
    </g>
    <g id="ytick_103">
     <g id="line2d_236">
      <g>
       <use href="#mc3d89a154a" x="583.1424" y="201.935878" style="stroke: #000000; stroke-width: 0.6"/>
      </g>
     </g>
    </g>
    <g id="ytick_104">
     <g id="line2d_237">
      <g>
       <use href="#mc3d89a154a" x="583.1424" y="198.413771" style="stroke: #000000; stroke-width: 0.6"/>
      </g>
     </g>
    </g>
    <g id="ytick_105">
     <g id="line2d_238">
      <g>
       <use href="#mc3d89a154a" x="583.1424" y="195.307054" style="stroke: #000000; stroke-width: 0.6"/>
      </g>
     </g>
    </g>
    <g id="ytick_106">
     <g id="line2d_239">
      <g>
       <use href="#mc3d89a154a" x="583.1424" y="174.245124" style="stroke: #000000; stroke-width: 0.6"/>
      </g>
     </g>
    </g>
    <g id="ytick_107">
     <g id="line2d_240">
      <g>
       <use href="#mc3d89a154a" x="583.1424" y="163.550327" style="stroke: #000000; stroke-width: 0.6"/>
      </g>
     </g>
    </g>
    <g id="ytick_108">
     <g id="line2d_241">
      <g>
       <use href="#mc3d89a154a" x="583.1424" y="155.962248" style="stroke: #000000; stroke-width: 0.6"/>
      </g>
     </g>
    </g>
    <g id="ytick_109">
     <g id="line2d_242">
      <g>
       <use href="#mc3d89a154a" x="583.1424" y="150.076476" style="stroke: #000000; stroke-width: 0.6"/>
      </g>
     </g>
    </g>
    <g id="ytick_110">
     <g id="line2d_243">
      <g>
       <use href="#mc3d89a154a" x="583.1424" y="145.267451" style="stroke: #000000; stroke-width: 0.6"/>
      </g>
     </g>
    </g>
    <g id="ytick_111">
     <g id="line2d_244">
      <g>
       <use href="#mc3d89a154a" x="583.1424" y="141.201478" style="stroke: #000000; stroke-width: 0.6"/>
      </g>
     </g>
    </g>
    <g id="ytick_112">
     <g id="line2d_245">
      <g>
       <use href="#mc3d89a154a" x="583.1424" y="137.679371" style="stroke: #000000; stroke-width: 0.6"/>
      </g>
     </g>
    </g>
    <g id="ytick_113">
     <g id="line2d_246">
      <g>
       <use href="#mc3d89a154a" x="583.1424" y="134.572654" style="stroke: #000000; stroke-width: 0.6"/>
      </g>
     </g>
    </g>
    <g id="ytick_114">
     <g id="line2d_247">
      <g>
       <use href="#mc3d89a154a" x="583.1424" y="113.510724" style="stroke: #000000; stroke-width: 0.6"/>
      </g>
     </g>
    </g>
    <g id="ytick_115">
     <g id="line2d_248">
      <g>
       <use href="#mc3d89a154a" x="583.1424" y="102.815927" style="stroke: #000000; stroke-width: 0.6"/>
      </g>
     </g>
    </g>
    <g id="ytick_116">
     <g id="line2d_249">
      <g>
       <use href="#mc3d89a154a" x="583.1424" y="95.227848" style="stroke: #000000; stroke-width: 0.6"/>
      </g>
     </g>
    </g>
    <g id="ytick_117">
     <g id="line2d_250">
      <g>
       <use href="#mc3d89a154a" x="583.1424" y="89.342076" style="stroke: #000000; stroke-width: 0.6"/>
      </g>
     </g>
    </g>
    <g id="ytick_118">
     <g id="line2d_251">
      <g>
       <use href="#mc3d89a154a" x="583.1424" y="84.533051" style="stroke: #000000; stroke-width: 0.6"/>
      </g>
     </g>
    </g>
    <g id="ytick_119">
     <g id="line2d_252">
      <g>
       <use href="#mc3d89a154a" x="583.1424" y="80.467078" style="stroke: #000000; stroke-width: 0.6"/>
      </g>
     </g>
    </g>
    <g id="ytick_120">
     <g id="line2d_253">
      <g>
       <use href="#mc3d89a154a" x="583.1424" y="76.944971" style="stroke: #000000; stroke-width: 0.6"/>
      </g>
     </g>
    </g>
    <g id="ytick_121">
     <g id="line2d_254">
      <g>
       <use href="#mc3d89a154a" x="583.1424" y="73.838254" style="stroke: #000000; stroke-width: 0.6"/>
      </g>
     </g>
    </g>
    <g id="ytick_122">
     <g id="line2d_255">
      <g>
       <use href="#mc3d89a154a" x="583.1424" y="52.776324" style="stroke: #000000; stroke-width: 0.6"/>
      </g>
     </g>
    </g>
    <g id="ytick_123">
     <g id="line2d_256">
      <g>
       <use href="#mc3d89a154a" x="583.1424" y="42.081527" style="stroke: #000000; stroke-width: 0.6"/>
      </g>
     </g>
    </g>
    <g id="ytick_124">
     <g id="line2d_257">
      <g>
       <use href="#mc3d89a154a" x="583.1424" y="34.493448" style="stroke: #000000; stroke-width: 0.6"/>
      </g>
     </g>
    </g>
    <g id="ytick_125">
     <g id="line2d_258">
      <g>
       <use href="#mc3d89a154a" x="583.1424" y="28.607676" style="stroke: #000000; stroke-width: 0.6"/>
      </g>
     </g>
    </g>
    <g id="ytick_126">
     <g id="line2d_259">
      <g>
       <use href="#mc3d89a154a" x="583.1424" y="23.798651" style="stroke: #000000; stroke-width: 0.6"/>
      </g>
     </g>
    </g>
    <g id="yl2" transform="translate(536.6795 168.7849) scale(1.00000 1.02000) translate(-537.5627 -168.7849)">
     <!-- BCS rate ($\Lambda$, s$^{-1}$) -->
     <g transform="translate(546.562712 210.7256) rotate(-90) scale(0.1 -0.1)">
      <use href="#DejaVuSans-42" transform="translate(0 0.684375)"/>
      <use href="#DejaVuSans-43" transform="translate(68.603516 0.684375)"/>
      <use href="#DejaVuSans-53" transform="translate(138.427734 0.684375)"/>
      <use href="#DejaVuSans-20" transform="translate(201.904297 0.684375)"/>
      <use href="#DejaVuSans-72" transform="translate(233.691406 0.684375)"/>
      <use href="#DejaVuSans-61" transform="translate(274.804688 0.684375)"/>
      <use href="#DejaVuSans-74" transform="translate(336.083984 0.684375)"/>
      <use href="#DejaVuSans-65" transform="translate(375.292969 0.684375)"/>
      <use href="#DejaVuSans-20" transform="translate(436.816406 0.684375)"/>
      <use href="#DejaVuSans-28" transform="translate(468.603516 0.684375)"/>
      <use href="#DejaVuSans-39b" transform="translate(507.617188 0.684375)"/>
      <use href="#DejaVuSans-2c" transform="translate(576.025391 0.684375)"/>
      <use href="#DejaVuSans-20" transform="translate(607.8125 0.684375)"/>
      <use href="#DejaVuSans-73" transform="translate(639.599609 0.684375)"/>
      <use href="#DejaVuSans-2212" transform="translate(692.65625 38.965625) scale(0.7)"/>
      <use href="#DejaVuSans-31" transform="translate(751.308594 38.965625) scale(0.7)"/>
      <use href="#DejaVuSans-29" transform="translate(798.579102 0.684375)"/>
     </g>
    </g>
   </g>
   <g id="line2d_260">
    <path d="M 583.072716 104.055166 
L 593.019534 120.844144 
L 609.183113 148.640241 
L 624.849352 175.425881 
L 634.298829 191.149845 
L 642.256283 203.970998 
L 649.219056 214.781782 
L 655.684487 224.411664 
L 661.652578 232.898787 
L 667.123328 240.298617 
L 672.345408 246.988941 
L 677.318817 252.991522 
L 681.297544 257.457246 
L 684.53026 260.755899 
L 687.265635 263.248656 
L 689.752339 265.231788 
L 691.990373 266.753365 
L 694.228407 267.99656 
L 696.217771 268.845317 
L 698.207135 269.432391 
L 699.947828 269.715983 
L 701.688521 269.771035 
L 703.429214 269.584393 
L 705.169907 269.142903 
L 706.9106 268.433408 
L 708.651293 267.442758 
L 710.391987 266.161233 
L 712.13268 264.58936 
L 713.873373 262.729574 
L 715.862737 260.254675 
L 717.8521 257.410541 
L 720.090134 253.791785 
L 722.576839 249.343889 
L 725.809555 243.082363 
L 728.7936 237.0432 
L 729.55498 208.747273 
L 730.966104 168.679667 
L 732.028547 138.658284 
L 733.20096 103.487298 
L 733.705255 98.234518 
L 734.417744 93.195642 
L 735.445185 87.656515 
L 736.683491 82.154477 
L 737.943824 77.452036 
L 738.814042 74.987254 
L 739.660751 73.295591 
L 740.564721 72.021445 
L 741.477803 71.09459 
L 742.542179 70.301203 
L 743.73225 69.654266 
L 745.02018 69.166962 
L 746.378133 68.852477 
L 747.778273 68.723995 
L 749.193266 68.793902 
L 750.892665 69.124785 
L 752.879528 69.779684 
L 755.44756 70.904741 
L 762.964668 74.384893 
L 766.317839 75.632442 
L 768.931976 76.373486 
L 771.148753 76.761788 
L 773.067301 76.863779 
L 774.987369 76.718563 
L 776.682974 76.376167 
L 778.372204 75.823438 
L 780.032271 75.051603 
L 781.640095 74.053264 
L 783.370199 72.691544 
L 785.270696 70.883577 
L 786.496208 69.545447 
L 786.496208 69.545447 
" clip-path="url(#pf25638f1be)" style="fill: none; stroke: #ffa500; stroke-width: 3; stroke-linecap: square"/>
   </g>
   <g id="line2d_261">
    <path d="M 583.07855 97.970133 
L 591.299483 111.439651 
L 602.509847 129.33734 
L 624.432337 163.854697 
L 633.400628 177.552048 
L 639.877727 187.072313 
L 645.358349 194.737043 
L 650.091614 200.978821 
L 654.32664 206.206102 
L 658.312548 210.775663 
L 662.049336 214.723804 
L 665.537004 218.093558 
L 668.775554 220.932413 
L 672.014104 223.475557 
L 675.003534 225.546906 
L 677.992964 227.339467 
L 680.733275 228.719457 
L 683.224467 229.738071 
L 685.715659 230.516342 
L 687.957732 230.998769 
L 690.199805 231.263201 
L 692.441878 231.298591 
L 694.683951 231.093895 
L 696.676904 230.701459 
L 698.669858 230.102841 
L 700.911931 229.177599 
L 703.154003 228.002077 
L 705.645195 226.431276 
L 708.385507 224.419235 
L 711.374937 221.934209 
L 714.862606 218.725559 
L 719.097632 214.504327 
L 726.322089 206.915177 
L 729.0624 204.0576 
L 729.687795 185.412071 
L 730.431801 160.672933 
L 731.199177 145.182246 
L 731.994843 128.126756 
L 733.079986 99.880762 
L 733.618444 94.710043 
L 734.37764 89.601356 
L 735.437553 84.060484 
L 736.617821 79.017974 
L 737.763398 75.01603 
L 738.57962 72.912686 
L 739.356629 71.463753 
L 740.15985 70.368026 
L 741.120067 69.419997 
L 742.247578 68.630352 
L 743.514237 68.0069 
L 744.88709 67.557091 
L 746.333184 67.288375 
L 747.819568 67.208204 
L 749.314157 67.323044 
L 751.050485 67.683831 
L 753.030572 68.33129 
L 755.759573 69.490722 
L 763.296238 72.85111 
L 766.912203 74.191326 
L 769.591605 74.973405 
L 771.497997 75.329006 
L 773.160417 75.43652 
L 774.826624 75.313418 
L 776.296606 74.997216 
L 777.759147 74.479666 
L 779.193769 73.755355 
L 780.579991 72.81887 
L 781.897594 71.669807 
L 783.296955 70.163155 
L 784.85143 68.166323 
L 786.476731 65.747041 
L 786.476731 65.747041 
" clip-path="url(#pf25638f1be)" style="fill: none; stroke: #ff0000; stroke-width: 3; stroke-linecap: square"/>
   </g>
   <g id="line2d_262">
    <path d="M 583.07855 97.818459 
L 607.492231 137.484012 
L 614.716688 148.679341 
L 620.695549 157.557148 
L 624.681456 163.110868 
L 627.670886 166.930834 
L 630.411197 170.080968 
L 632.902389 172.588719 
L 635.144462 174.508242 
L 637.137416 175.912057 
L 638.88125 176.886664 
L 640.625084 177.629022 
L 642.368919 178.153224 
L 644.361872 178.503299 
L 646.354826 178.607963 
L 648.34778 178.488298 
L 650.589852 178.11178 
L 652.831925 177.508042 
L 655.323117 176.613271 
L 658.810786 175.097065 
L 666.7826 171.521345 
L 669.522912 170.598399 
L 671.764984 170.078377 
L 673.757938 169.842024 
L 675.501772 169.841543 
L 677.245607 170.058166 
L 678.989441 170.495006 
L 680.733275 171.146283 
L 682.726229 172.145712 
L 684.719183 173.408936 
L 686.712136 174.92727 
L 688.954209 176.929519 
L 691.196282 179.231282 
L 693.687474 182.12504 
L 696.178666 185.356338 
L 698.918977 189.280379 
L 702.406646 194.713654 
L 707.139911 202.044722 
L 709.631103 205.468664 
L 711.624056 207.814835 
L 713.118771 209.278166 
L 714.613486 210.43963 
L 715.859082 211.145823 
L 717.104678 211.587524 
L 718.350274 211.750338 
L 719.59587 211.647591 
L 720.841466 211.297112 
L 722.087062 210.716733 
L 723.581778 209.741916 
L 725.076493 208.492531 
L 726.820327 206.728995 
L 728.813281 204.370028 
L 729.0624 204.0576 
L 729.687795 185.412071 
L 730.431801 160.672933 
L 731.199177 145.182246 
L 731.994843 128.126756 
L 733.079986 99.880762 
L 733.618444 94.710043 
L 734.37764 89.601356 
L 735.437553 84.060484 
L 736.617821 79.017974 
L 737.763398 75.01603 
L 738.57962 72.912686 
L 739.356629 71.463753 
L 740.15985 70.368026 
L 741.120067 69.419997 
L 742.247578 68.630352 
L 743.514237 68.0069 
L 744.88709 67.557091 
L 746.333184 67.288375 
L 747.819568 67.208204 
L 749.314157 67.323044 
L 751.050485 67.683831 
L 753.030572 68.33129 
L 755.759573 69.490722 
L 763.296238 72.85111 
L 766.912203 74.191326 
L 769.591605 74.973405 
L 771.497997 75.329006 
L 773.160417 75.43652 
L 774.826624 75.313418 
L 776.296606 74.997216 
L 777.759147 74.479666 
L 779.193769 73.755355 
L 780.579991 72.81887 
L 781.897594 71.669807 
L 783.296955 70.163155 
L 784.85143 68.166323 
L 786.476731 65.747041 
L 786.476731 65.747041 
" clip-path="url(#pf25638f1be)" style="fill: none; stroke: #000000; stroke-width: 3; stroke-linecap: square"/>
   </g>
   <g id="line2d_263">
    <path d="M 582.973543 90.911886 
L 588.276461 98.817322 
L 594.061462 107.841533 
L 600.569589 118.414135 
L 608.041883 130.986433 
L 620.09397 151.789018 
L 630.699806 169.912039 
L 637.448975 181.0051 
L 642.992935 189.702599 
L 647.81377 196.874628 
L 652.152521 202.959011 
L 656.25023 208.336726 
L 660.106898 213.034103 
L 663.722524 217.08723 
L 667.097109 220.539347 
L 670.230651 223.439021 
L 673.364194 226.025933 
L 676.256694 228.120883 
L 678.908154 229.781905 
L 681.559613 231.183761 
L 683.97003 232.22422 
L 686.380447 233.033505 
L 688.790865 233.603528 
L 691.201282 233.926199 
L 693.370658 233.998432 
L 695.540033 233.857861 
L 697.709409 233.498589 
L 699.878785 232.91468 
L 702.04816 232.099079 
L 704.217536 231.043495 
L 706.386912 229.73957 
L 708.556287 228.178948 
L 710.725663 226.353272 
L 712.895038 224.254185 
L 715.305456 221.591034 
L 717.715873 218.568559 
L 720.12629 215.175296 
L 722.536708 211.399781 
L 724.224 208.512 
L 725.8326 187.860601 
L 727.707088 165.203205 
L 728.250153 155.295779 
L 729.581198 127.825282 
L 730.18184 121.840958 
L 731.046532 115.525245 
L 732.641849 105.82967 
L 734.423251 94.654372 
L 735.2994 87.832469 
L 736.330357 77.400632 
L 737.012208 71.910025 
L 737.673798 68.232875 
L 738.453742 65.140113 
L 739.426113 62.266477 
L 740.579392 59.606629 
L 741.901077 57.154579 
L 743.37866 54.90434 
L 745.000428 52.845295 
L 746.965744 50.719062 
L 749.774819 48.052992 
L 756.978055 41.686526 
L 761.388015 38.025735 
L 764.314735 35.864408 
L 766.779057 34.307791 
L 769.722223 32.726977 
L 773.641547 30.887596 
L 775.502759 30.227796 
L 777.151489 29.882893 
L 778.583681 29.819124 
L 780.193396 29.976733 
L 782.135964 30.402368 
L 784.807249 31.233002 
L 786.441331 31.876093 
L 786.441331 31.876093 
" clip-path="url(#pf25638f1be)" style="fill: none; stroke: #0000ff; stroke-width: 3; stroke-linecap: square"/>
   </g>
   <g id="line2d_264">
    <g clip-path="url(#pf25638f1be)">
     <use href="#m1ad704be25" x="582.9504" y="101.4912" style="fill: #32cd32; stroke: #32cd32; stroke-linejoin: miter"/>
     <use href="#m1ad704be25" x="589.116672" y="101.4912" style="fill: #32cd32; stroke: #32cd32; stroke-linejoin: miter"/>
     <use href="#m1ad704be25" x="595.282944" y="101.4912" style="fill: #32cd32; stroke: #32cd32; stroke-linejoin: miter"/>
     <use href="#m1ad704be25" x="601.449216" y="101.4912" style="fill: #32cd32; stroke: #32cd32; stroke-linejoin: miter"/>
     <use href="#m1ad704be25" x="607.615488" y="101.4912" style="fill: #32cd32; stroke: #32cd32; stroke-linejoin: miter"/>
     <use href="#m1ad704be25" x="613.78176" y="101.4912" style="fill: #32cd32; stroke: #32cd32; stroke-linejoin: miter"/>
     <use href="#m1ad704be25" x="619.948032" y="101.4912" style="fill: #32cd32; stroke: #32cd32; stroke-linejoin: miter"/>
     <use href="#m1ad704be25" x="626.114304" y="101.4912" style="fill: #32cd32; stroke: #32cd32; stroke-linejoin: miter"/>
     <use href="#m1ad704be25" x="632.280576" y="115.0848" style="fill: #32cd32; stroke: #32cd32; stroke-linejoin: miter"/>
     <use href="#m1ad704be25" x="638.446848" y="127.2576" style="fill: #32cd32; stroke: #32cd32; stroke-linejoin: miter"/>
     <use href="#m1ad704be25" x="644.61312" y="137.4336" style="fill: #32cd32; stroke: #32cd32; stroke-linejoin: miter"/>
     <use href="#m1ad704be25" x="650.779392" y="145.6512" style="fill: #32cd32; stroke: #32cd32; stroke-linejoin: miter"/>
     <use href="#m1ad704be25" x="656.945664" y="151.68" style="fill: #32cd32; stroke: #32cd32; stroke-linejoin: miter"/>
     <use href="#m1ad704be25" x="663.111936" y="156.3648" style="fill: #32cd32; stroke: #32cd32; stroke-linejoin: miter"/>
     <use href="#m1ad704be25" x="669.278208" y="159.0912" style="fill: #32cd32; stroke: #32cd32; stroke-linejoin: miter"/>
     <use href="#m1ad704be25" x="675.44448" y="160.2816" style="fill: #32cd32; stroke: #32cd32; stroke-linejoin: miter"/>
     <use href="#m1ad704be25" x="681.610752" y="159.9744" style="fill: #32cd32; stroke: #32cd32; stroke-linejoin: miter"/>
     <use href="#m1ad704be25" x="687.777024" y="158.2848" style="fill: #32cd32; stroke: #32cd32; stroke-linejoin: miter"/>
     <use href="#m1ad704be25" x="693.943296" y="155.4816" style="fill: #32cd32; stroke: #32cd32; stroke-linejoin: miter"/>
     <use href="#m1ad704be25" x="700.109568" y="151.9104" style="fill: #32cd32; stroke: #32cd32; stroke-linejoin: miter"/>
     <use href="#m1ad704be25" x="706.27584" y="147.5328" style="fill: #32cd32; stroke: #32cd32; stroke-linejoin: miter"/>
     <use href="#m1ad704be25" x="712.442112" y="142.272" style="fill: #32cd32; stroke: #32cd32; stroke-linejoin: miter"/>
     <use href="#m1ad704be25" x="718.608384" y="136.704" style="fill: #32cd32; stroke: #32cd32; stroke-linejoin: miter"/>
     <use href="#m1ad704be25" x="724.774656" y="130.5984" style="fill: #32cd32; stroke: #32cd32; stroke-linejoin: miter"/>
     <use href="#m1ad704be25" x="730.940928" y="123.5328" style="fill: #32cd32; stroke: #32cd32; stroke-linejoin: miter"/>
     <use href="#m1ad704be25" x="737.1072" y="115.6992" style="fill: #32cd32; stroke: #32cd32; stroke-linejoin: miter"/>
     <use href="#m1ad704be25" x="743.273472" y="105.5232" style="fill: #32cd32; stroke: #32cd32; stroke-linejoin: miter"/>
     <use href="#m1ad704be25" x="749.439744" y="92.2752" style="fill: #32cd32; stroke: #32cd32; stroke-linejoin: miter"/>
     <use href="#m1ad704be25" x="755.606016" y="74.0352" style="fill: #32cd32; stroke: #32cd32; stroke-linejoin: miter"/>
     <use href="#m1ad704be25" x="761.772288" y="71.8848" style="fill: #32cd32; stroke: #32cd32; stroke-linejoin: miter"/>
     <use href="#m1ad704be25" x="767.93856" y="71.8848" style="fill: #32cd32; stroke: #32cd32; stroke-linejoin: miter"/>
     <use href="#m1ad704be25" x="774.104832" y="71.8848" style="fill: #32cd32; stroke: #32cd32; stroke-linejoin: miter"/>
     <use href="#m1ad704be25" x="780.271104" y="71.8848" style="fill: #32cd32; stroke: #32cd32; stroke-linejoin: miter"/>
     <use href="#m1ad704be25" x="786.437376" y="71.8848" style="fill: #32cd32; stroke: #32cd32; stroke-linejoin: miter"/>
    </g>
   </g>
   <g id="patch_13">
    <path d="M 583.1424 313.9968 
L 583.1424 23.6544 
" style="fill: none; stroke: #000000; stroke-width: 0.8; stroke-linejoin: miter; stroke-linecap: square"/>
   </g>
   <g id="patch_14">
    <path d="M 786.3936 313.9968 
L 786.3936 23.6544 
" style="fill: none; stroke: #000000; stroke-width: 0.8; stroke-linejoin: miter; stroke-linecap: square"/>
   </g>
   <g id="patch_15">
    <path d="M 583.1424 313.9968 
L 786.3936 313.9968 
" style="fill: none; stroke: #000000; stroke-width: 0.8; stroke-linejoin: miter; stroke-linecap: square"/>
   </g>
   <g id="patch_16">
    <path d="M 583.1424 23.6544 
L 786.3936 23.6544 
" style="fill: none; stroke: #000000; stroke-width: 0.8; stroke-linejoin: miter; stroke-linecap: square"/>
   </g>
   <g id="ttl2" transform="translate(605.9921 6.8544) scale(1.01600 1.00000) translate(-606.2993 -6.8544)">
    <!-- (c) Rain rate = 10 mm h$^{-1}$ -->
    <g transform="translate(605.268 17.6544) scale(0.12 -0.12)">
     <use href="#DejaVuSans-28" transform="translate(0 0.684375)"/>
     <use href="#DejaVuSans-63" transform="translate(39.013672 0.684375)"/>
     <use href="#DejaVuSans-29" transform="translate(93.994141 0.684375)"/>
     <use href="#DejaVuSans-20" transform="translate(133.007812 0.684375)"/>
     <use href="#DejaVuSans-52" transform="translate(164.794922 0.684375)"/>
     <use href="#DejaVuSans-61" transform="translate(234.277344 0.684375)"/>
     <use href="#DejaVuSans-69" transform="translate(295.556641 0.684375)"/>
     <use href="#DejaVuSans-6e" transform="translate(323.339844 0.684375)"/>
     <use href="#DejaVuSans-20" transform="translate(386.71875 0.684375)"/>
     <use href="#DejaVuSans-72" transform="translate(418.505859 0.684375)"/>
     <use href="#DejaVuSans-61" transform="translate(459.619141 0.684375)"/>
     <use href="#DejaVuSans-74" transform="translate(520.898438 0.684375)"/>
     <use href="#DejaVuSans-65" transform="translate(560.107422 0.684375)"/>
     <use href="#DejaVuSans-20" transform="translate(621.630859 0.684375)"/>
     <use href="#DejaVuSans-3d" transform="translate(653.417969 0.684375)"/>
     <use href="#DejaVuSans-20" transform="translate(737.207031 0.684375)"/>
     <use href="#DejaVuSans-31" transform="translate(768.994141 0.684375)"/>
     <use href="#DejaVuSans-30" transform="translate(832.617188 0.684375)"/>
     <use href="#DejaVuSans-20" transform="translate(896.240234 0.684375)"/>
     <use href="#DejaVuSans-6d" transform="translate(928.027344 0.684375)"/>
     <use href="#DejaVuSans-6d" transform="translate(1025.439453 0.684375)"/>
     <use href="#DejaVuSans-20" transform="translate(1122.851562 0.684375)"/>
     <use href="#DejaVuSans-68" transform="translate(1154.638672 0.684375)"/>
     <use href="#DejaVuSans-2212" transform="translate(1218.974609 38.965625) scale(0.7)"/>
     <use href="#DejaVuSans-31" transform="translate(1277.626953 38.965625) scale(0.7)"/>
    </g>
   </g>
  </g>
 </g>
 <defs>
  <clipPath id="pfd4b7a92da">
   <rect x="52.992" y="23.6544" width="203.2512" height="290.3424"/>
  </clipPath>
  <clipPath id="p11d7e341cf">
   <rect x="318.0672" y="23.6544" width="203.2896" height="290.3424"/>
  </clipPath>
  <clipPath id="pf25638f1be">
   <rect x="583.1424" y="23.6544" width="203.2512" height="290.3424"/>
  </clipPath>
 </defs>
</svg>

</body></html>
